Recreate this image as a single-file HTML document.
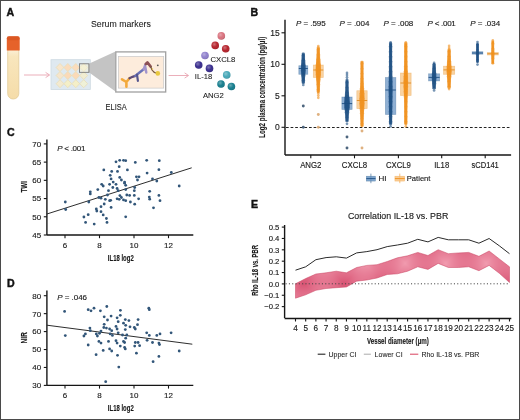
<!DOCTYPE html>
<html><head><meta charset="utf-8"><style>
html,body{margin:0;padding:0;background:#fff;}
svg{display:block;font-family:"Liberation Sans", sans-serif;will-change:transform;}
text{stroke:#1a1a1a;stroke-width:0.14;}
</style></head><body>
<svg width="520" height="420" viewBox="0 0 520 420">
<defs>
<radialGradient id="shine" cx="0.38" cy="0.35" r="0.65"><stop offset="0" stop-color="#fff" stop-opacity="0.35"/><stop offset="0.6" stop-color="#fff" stop-opacity="0"/><stop offset="1" stop-color="#000" stop-opacity="0.12"/></radialGradient>
<linearGradient id="tubebody" x1="0" y1="0" x2="0" y2="1"><stop offset="0" stop-color="#fcf4e4"/><stop offset="0.2" stop-color="#f8e6bd"/><stop offset="1" stop-color="#f5dca8"/></linearGradient>
<pattern id="hatch" width="1.45" height="1.45" patternUnits="userSpaceOnUse" patternTransform="rotate(45)">
<rect width="1.45" height="1.45" fill="#f29cb0"/><rect width="0.72" height="0.72" fill="#d85272"/><rect x="0.72" y="0.72" width="0.73" height="0.73" fill="#d85272"/>
</pattern>
</defs>
<rect x="0" y="0" width="520" height="1" fill="#4a4a4a"/><rect x="0" y="419" width="520" height="1" fill="#4a4a4a"/><rect x="0" y="0" width="1" height="420" fill="#4a4a4a"/><rect x="519" y="0" width="1" height="420" fill="#4a4a4a"/>
<text x="6.6" y="15.8" font-size="10.6" text-anchor="start" font-weight="bold" font-style="normal" fill="#111" style="stroke-width:0.45">A</text>
<text x="250.6" y="16.2" font-size="10.6" text-anchor="start" font-weight="bold" font-style="normal" fill="#111" style="stroke-width:0.45">B</text>
<text x="7" y="136.2" font-size="10.6" text-anchor="start" font-weight="bold" font-style="normal" fill="#111" style="stroke-width:0.45">C</text>
<text x="7" y="287" font-size="10.6" text-anchor="start" font-weight="bold" font-style="normal" fill="#111" style="stroke-width:0.45">D</text>
<text x="251" y="207.8" font-size="10.6" text-anchor="start" font-weight="bold" font-style="normal" fill="#111" style="stroke-width:0.45">E</text>
<text x="91" y="27.4" font-size="9.8" text-anchor="start" font-weight="normal" font-style="normal" fill="#1a1a1a" style="stroke-width:0.08" textLength="59.8" lengthAdjust="spacingAndGlyphs">Serum markers</text>
<rect x="7.7" y="46" width="11.1" height="53" rx="5.4" ry="5.4" fill="url(#tubebody)" stroke="#e2cc98" stroke-width="0.8"/>
<path d="M6.8,38.6 Q6.8,36.3 9.1,36.3 L17.4,36.3 Q19.7,36.3 19.7,38.6 L19.7,50.5 L6.8,50.5 Z" fill="#e6622a"/>
<rect x="6.8" y="36.3" width="12.9" height="4" rx="1.8" fill="#d4501f" opacity="0.6"/>
<line x1="24" y1="75" x2="49.1" y2="75" stroke="#e9a6b2" stroke-width="0.9"/>
<path d="M45.6,72.4 L49.6,75 L45.6,77.6" fill="none" stroke="#e9a6b2" stroke-width="0.9"/>
<line x1="168.6" y1="75.5" x2="188.1" y2="75.5" stroke="#e9a6b2" stroke-width="0.9"/>
<path d="M184.6,72.9 L188.6,75.5 L184.6,78.1" fill="none" stroke="#e9a6b2" stroke-width="0.9"/>
<rect x="51" y="59.7" width="39.3" height="29.8" fill="#dfe9f0" stroke="#cdd9e2" stroke-width="0.8"/>
<path d="M60,63.5 L63.9,67.5 L60,71.5 L56.1,67.5 Z" fill="#f8e6cc" stroke="#e8ddb8" stroke-width="0.8" stroke-linejoin="round"/>
<path d="M67.8,63.5 L71.7,67.5 L67.8,71.5 L63.9,67.5 Z" fill="#fbdcbc" stroke="#e8ddb8" stroke-width="0.8" stroke-linejoin="round"/>
<path d="M75.8,63.5 L79.7,67.5 L75.8,71.5 L71.89999999999999,67.5 Z" fill="#fbdcbc" stroke="#e8ddb8" stroke-width="0.8" stroke-linejoin="round"/>
<path d="M83.7,63.5 L87.60000000000001,67.5 L83.7,71.5 L79.8,67.5 Z" fill="#f3efd0" stroke="#e8ddb8" stroke-width="0.8" stroke-linejoin="round"/>
<path d="M60,71.5 L63.9,75.5 L60,79.5 L56.1,75.5 Z" fill="#f6e5cc" stroke="#e8ddb8" stroke-width="0.8" stroke-linejoin="round"/>
<path d="M67.8,71.5 L71.7,75.5 L67.8,79.5 L63.9,75.5 Z" fill="#fbdab8" stroke="#e8ddb8" stroke-width="0.8" stroke-linejoin="round"/>
<path d="M75.8,71.5 L79.7,75.5 L75.8,79.5 L71.89999999999999,75.5 Z" fill="#fbdab8" stroke="#e8ddb8" stroke-width="0.8" stroke-linejoin="round"/>
<path d="M83.7,71.5 L87.60000000000001,75.5 L83.7,79.5 L79.8,75.5 Z" fill="#f0edd2" stroke="#e8ddb8" stroke-width="0.8" stroke-linejoin="round"/>
<path d="M60,79.7 L63.9,83.7 L60,87.7 L56.1,83.7 Z" fill="#f3ead0" stroke="#e8ddb8" stroke-width="0.8" stroke-linejoin="round"/>
<path d="M67.8,79.7 L71.7,83.7 L67.8,87.7 L63.9,83.7 Z" fill="#f4efc8" stroke="#e8ddb8" stroke-width="0.8" stroke-linejoin="round"/>
<path d="M75.8,79.7 L79.7,83.7 L75.8,87.7 L71.89999999999999,83.7 Z" fill="#f4efc8" stroke="#e8ddb8" stroke-width="0.8" stroke-linejoin="round"/>
<path d="M83.7,79.7 L87.60000000000001,83.7 L83.7,87.7 L79.8,83.7 Z" fill="#eff1d8" stroke="#e8ddb8" stroke-width="0.8" stroke-linejoin="round"/>
<path d="M88.8,63.8 L115.5,51.6 L115.5,91.5 L88.8,72.3 Z" fill="#c4c4c4"/>
<rect x="79.4" y="63.8" width="9.5" height="8.5" fill="#f3f1d8" fill-opacity="0.55" stroke="#707070" stroke-width="0.8"/>
<rect x="115.8" y="51.9" width="49.9" height="40.1" fill="#fff" stroke="#a0a0a0" stroke-width="1.3"/>
<rect x="118.4" y="56.5" width="45.3" height="31.6" fill="#fdecdc" stroke="#c8c8c8" stroke-width="0.7"/>
<path d="M122,79.3 L126.4,82 L129.5,78.2 M126.4,82 L126.4,86.8" fill="none" stroke="#f2a93c" stroke-width="2.6" stroke-linecap="round" stroke-linejoin="round"/>
<path d="M129.5,78.2 L132.5,76.8 L135.3,75.9" fill="none" stroke="#5e4c78" stroke-width="2.3" stroke-linecap="round"/>
<path d="M135.3,75.9 L139.2,72.8 L143.7,69.3" fill="none" stroke="#6a72b8" stroke-width="2.4" stroke-linecap="round"/>
<path d="M137,74.5 L137.9,80.8" fill="none" stroke="#56568e" stroke-width="2.2" stroke-linecap="round"/>
<path d="M143.7,69.3 L145.4,64.4 M145.2,66.5 L146.3,72.5" fill="none" stroke="#a294cc" stroke-width="2.4" stroke-linecap="round"/>
<path d="M145.8,64 L147.4,62.4 L150.7,66.6" fill="none" stroke="#8c5056" stroke-width="2.6" stroke-linecap="round" stroke-linejoin="round"/>
<path d="M150.7,66.6 Q151.5,70.5 154.3,72.4 L156,73" fill="none" stroke="#7a5a40" stroke-width="1.3" stroke-linecap="round"/>
<circle cx="152.4" cy="69" r="0.8" fill="#e8c850"/>
<circle cx="157.8" cy="73.4" r="2.3" fill="#e9c840"/>
<circle cx="157.8" cy="65.3" r="0.9" fill="#555"/>
<text x="105.6" y="110.3" font-size="8.6" text-anchor="start" font-weight="normal" font-style="normal" fill="#1a1a1a" style="stroke-width:0.08" textLength="21.1" lengthAdjust="spacingAndGlyphs">ELISA</text>
<circle cx="221.3" cy="35.9" r="3.8" fill="#d9727e"/>
<circle cx="221.3" cy="35.9" r="3.8" fill="url(#shine)"/>
<circle cx="215.2" cy="45.4" r="3.8" fill="#b5232c"/>
<circle cx="215.2" cy="45.4" r="3.8" fill="url(#shine)"/>
<circle cx="225.7" cy="48.8" r="3.8" fill="#b5232c"/>
<circle cx="225.7" cy="48.8" r="3.8" fill="url(#shine)"/>
<circle cx="205" cy="55.5" r="3.8" fill="#8f80cc"/>
<circle cx="205" cy="55.5" r="3.8" fill="url(#shine)"/>
<circle cx="198.7" cy="65" r="3.8" fill="#3a2e8e"/>
<circle cx="198.7" cy="65" r="3.8" fill="url(#shine)"/>
<circle cx="209.5" cy="68.4" r="3.8" fill="#3a2e8e"/>
<circle cx="209.5" cy="68.4" r="3.8" fill="url(#shine)"/>
<circle cx="226.7" cy="74.9" r="3.8" fill="#48a8b8"/>
<circle cx="226.7" cy="74.9" r="3.8" fill="url(#shine)"/>
<circle cx="221" cy="84" r="3.8" fill="#177e8e"/>
<circle cx="221" cy="84" r="3.8" fill="url(#shine)"/>
<circle cx="231.4" cy="86.5" r="3.8" fill="#177e8e"/>
<circle cx="231.4" cy="86.5" r="3.8" fill="url(#shine)"/>
<text x="210.5" y="62" font-size="7.7" text-anchor="start" font-weight="normal" font-style="normal" fill="#1a1a1a" style="stroke-width:0.08">CXCL8</text>
<text x="194.8" y="79.2" font-size="7.6" text-anchor="start" font-weight="normal" font-style="normal" fill="#1a1a1a" style="stroke-width:0.08">IL-18</text>
<text x="202.9" y="97.7" font-size="7.7" text-anchor="start" font-weight="normal" font-style="normal" fill="#1a1a1a" style="stroke-width:0.08">ANG2</text>
<line x1="285" y1="19.8" x2="285" y2="155" stroke="#161616" stroke-width="1.4"/>
<line x1="285" y1="155" x2="511.1" y2="155" stroke="#161616" stroke-width="1.4"/>
<line x1="281.5" y1="127.3" x2="285" y2="127.3" stroke="#161616" stroke-width="1.1"/>
<text x="279.8" y="130.4" font-size="8.5" text-anchor="end" font-weight="normal" font-style="normal" fill="#1a1a1a" >0</text>
<line x1="281.5" y1="95.8" x2="285" y2="95.8" stroke="#161616" stroke-width="1.1"/>
<text x="279.8" y="98.89999999999999" font-size="8.5" text-anchor="end" font-weight="normal" font-style="normal" fill="#1a1a1a" >5</text>
<line x1="281.5" y1="64.3" x2="285" y2="64.3" stroke="#161616" stroke-width="1.1"/>
<text x="279.8" y="67.39999999999999" font-size="8.5" text-anchor="end" font-weight="normal" font-style="normal" fill="#1a1a1a" >10</text>
<line x1="281.5" y1="32.8" x2="285" y2="32.8" stroke="#161616" stroke-width="1.1"/>
<text x="279.8" y="35.9" font-size="8.5" text-anchor="end" font-weight="normal" font-style="normal" fill="#1a1a1a" >15</text>
<line x1="286" y1="127.5" x2="511" y2="127.5" stroke="#222" stroke-width="1" stroke-dasharray="2.7,1.9"/>
<line x1="310.8" y1="155" x2="310.8" y2="158.3" stroke="#161616" stroke-width="1.1"/>
<text x="310.8" y="167.6" font-size="8.5" text-anchor="middle" font-weight="normal" font-style="normal" fill="#1a1a1a" textLength="21.3" lengthAdjust="spacingAndGlyphs">ANG2</text>
<text x="310.8" y="25.6" font-size="8" text-anchor="middle" fill="#1a1a1a" textLength="29.8" lengthAdjust="spacing"><tspan font-style="italic">P</tspan> = .595</text>
<line x1="354.5" y1="155" x2="354.5" y2="158.3" stroke="#161616" stroke-width="1.1"/>
<text x="354.5" y="167.6" font-size="8.5" text-anchor="middle" font-weight="normal" font-style="normal" fill="#1a1a1a" textLength="25.4" lengthAdjust="spacingAndGlyphs">CXCL8</text>
<text x="354.5" y="25.6" font-size="8" text-anchor="middle" fill="#1a1a1a" textLength="29.8" lengthAdjust="spacing"><tspan font-style="italic">P</tspan> = .004</text>
<line x1="398.4" y1="155" x2="398.4" y2="158.3" stroke="#161616" stroke-width="1.1"/>
<text x="398.4" y="167.6" font-size="8.5" text-anchor="middle" font-weight="normal" font-style="normal" fill="#1a1a1a" textLength="25" lengthAdjust="spacingAndGlyphs">CXCL9</text>
<text x="398.4" y="25.6" font-size="8" text-anchor="middle" fill="#1a1a1a" textLength="29.8" lengthAdjust="spacing"><tspan font-style="italic">P</tspan> = .008</text>
<line x1="441.7" y1="155" x2="441.7" y2="158.3" stroke="#161616" stroke-width="1.1"/>
<text x="441.7" y="167.6" font-size="8.5" text-anchor="middle" font-weight="normal" font-style="normal" fill="#1a1a1a" textLength="15" lengthAdjust="spacingAndGlyphs">IL18</text>
<text x="441.7" y="25.6" font-size="8" text-anchor="middle" fill="#1a1a1a" textLength="28.2" lengthAdjust="spacing"><tspan font-style="italic">P</tspan> &lt; .001</text>
<line x1="485.2" y1="155" x2="485.2" y2="158.3" stroke="#161616" stroke-width="1.1"/>
<text x="485.2" y="167.6" font-size="8.5" text-anchor="middle" font-weight="normal" font-style="normal" fill="#1a1a1a" textLength="27.2" lengthAdjust="spacingAndGlyphs">sCD141</text>
<text x="485.2" y="25.6" font-size="8" text-anchor="middle" fill="#1a1a1a" textLength="29.8" lengthAdjust="spacing"><tspan font-style="italic">P</tspan> = .034</text>
<text transform="translate(264.7,87.3) rotate(-90)" font-size="8.6" font-weight="bold" text-anchor="middle" fill="#1a1a1a" textLength="101" lengthAdjust="spacingAndGlyphs">Log2 plasma concentration (pg/µl)</text>
<rect x="298.8" y="65.7" width="9" height="8.599999999999994" fill="#6a96c6" fill-opacity="0.75" stroke="#1d4f82" stroke-opacity="0.35" stroke-width="0.7"/>
<line x1="298.8" y1="68.5" x2="307.8" y2="68.5" stroke="#1d4f82" stroke-width="0.9"/>
<rect x="301.66" y="52.45" width="3.28" height="2.9" rx="1.45" fill="#1d4f82" fill-opacity="0.8"/>
<rect x="301.63" y="53.70" width="3.33" height="2.9" rx="1.45" fill="#1d4f82" fill-opacity="0.8"/>
<rect x="301.60" y="54.95" width="3.41" height="2.9" rx="1.45" fill="#1d4f82" fill-opacity="0.8"/>
<rect x="301.54" y="56.20" width="3.51" height="2.9" rx="1.45" fill="#1d4f82" fill-opacity="0.8"/>
<rect x="301.48" y="57.45" width="3.64" height="2.9" rx="1.45" fill="#1d4f82" fill-opacity="0.8"/>
<rect x="301.40" y="58.70" width="3.81" height="2.9" rx="1.45" fill="#1d4f82" fill-opacity="0.8"/>
<rect x="301.30" y="59.95" width="3.99" height="2.9" rx="1.45" fill="#1d4f82" fill-opacity="0.8"/>
<rect x="301.20" y="61.20" width="4.19" height="2.9" rx="1.45" fill="#1d4f82" fill-opacity="0.8"/>
<rect x="301.10" y="62.45" width="4.39" height="2.9" rx="1.45" fill="#1d4f82" fill-opacity="0.8"/>
<rect x="301.02" y="63.70" width="4.57" height="2.9" rx="1.45" fill="#1d4f82" fill-opacity="0.8"/>
<rect x="300.95" y="64.95" width="4.70" height="2.9" rx="1.45" fill="#1d4f82" fill-opacity="0.8"/>
<rect x="300.91" y="66.20" width="4.78" height="2.9" rx="1.45" fill="#1d4f82" fill-opacity="0.8"/>
<rect x="300.90" y="67.45" width="4.80" height="2.9" rx="1.45" fill="#1d4f82" fill-opacity="0.8"/>
<rect x="300.93" y="68.70" width="4.74" height="2.9" rx="1.45" fill="#1d4f82" fill-opacity="0.8"/>
<rect x="300.99" y="69.95" width="4.62" height="2.9" rx="1.45" fill="#1d4f82" fill-opacity="0.8"/>
<rect x="301.07" y="71.20" width="4.46" height="2.9" rx="1.45" fill="#1d4f82" fill-opacity="0.8"/>
<rect x="301.17" y="72.45" width="4.27" height="2.9" rx="1.45" fill="#1d4f82" fill-opacity="0.8"/>
<rect x="301.27" y="73.70" width="4.07" height="2.9" rx="1.45" fill="#1d4f82" fill-opacity="0.8"/>
<rect x="301.36" y="74.95" width="3.87" height="2.9" rx="1.45" fill="#1d4f82" fill-opacity="0.8"/>
<rect x="301.45" y="76.20" width="3.70" height="2.9" rx="1.45" fill="#1d4f82" fill-opacity="0.8"/>
<rect x="301.52" y="77.45" width="3.56" height="2.9" rx="1.45" fill="#1d4f82" fill-opacity="0.8"/>
<rect x="301.58" y="78.70" width="3.44" height="2.9" rx="1.45" fill="#1d4f82" fill-opacity="0.8"/>
<rect x="301.62" y="79.95" width="3.36" height="2.9" rx="1.45" fill="#1d4f82" fill-opacity="0.8"/>
<rect x="301.65" y="81.20" width="3.30" height="2.9" rx="1.45" fill="#1d4f82" fill-opacity="0.8"/>
<circle cx="303.3" cy="85.00" r="1.35" fill="#1d4f82" fill-opacity="0.6"/>
<circle cx="303.3" cy="106" r="1.45" fill="#3a5470" fill-opacity="0.9"/>
<circle cx="303.3" cy="127.3" r="1.45" fill="#3a5470" fill-opacity="0.9"/>
<rect x="313.3" y="65" width="10" height="12.5" fill="#f8c482" fill-opacity="0.75" stroke="#e08a20" stroke-opacity="0.35" stroke-width="0.7"/>
<line x1="313.3" y1="70" x2="323.3" y2="70" stroke="#e08a20" stroke-width="0.9"/>
<rect x="316.67" y="46.55" width="3.25" height="2.9" rx="1.45" fill="#f0901c" fill-opacity="0.8"/>
<rect x="316.66" y="47.80" width="3.28" height="2.9" rx="1.45" fill="#f0901c" fill-opacity="0.8"/>
<rect x="316.64" y="49.05" width="3.31" height="2.9" rx="1.45" fill="#f0901c" fill-opacity="0.8"/>
<rect x="316.62" y="50.30" width="3.36" height="2.9" rx="1.45" fill="#f0901c" fill-opacity="0.8"/>
<rect x="316.58" y="51.55" width="3.43" height="2.9" rx="1.45" fill="#f0901c" fill-opacity="0.8"/>
<rect x="316.54" y="52.80" width="3.52" height="2.9" rx="1.45" fill="#f0901c" fill-opacity="0.8"/>
<rect x="316.49" y="54.05" width="3.63" height="2.9" rx="1.45" fill="#f0901c" fill-opacity="0.8"/>
<rect x="316.42" y="55.30" width="3.76" height="2.9" rx="1.45" fill="#f0901c" fill-opacity="0.8"/>
<rect x="316.34" y="56.55" width="3.91" height="2.9" rx="1.45" fill="#f0901c" fill-opacity="0.8"/>
<rect x="316.25" y="57.80" width="4.09" height="2.9" rx="1.45" fill="#f0901c" fill-opacity="0.8"/>
<rect x="316.16" y="59.05" width="4.29" height="2.9" rx="1.45" fill="#f0901c" fill-opacity="0.8"/>
<rect x="316.05" y="60.30" width="4.49" height="2.9" rx="1.45" fill="#f0901c" fill-opacity="0.8"/>
<rect x="315.95" y="61.55" width="4.70" height="2.9" rx="1.45" fill="#f0901c" fill-opacity="0.8"/>
<rect x="315.85" y="62.80" width="4.90" height="2.9" rx="1.45" fill="#f0901c" fill-opacity="0.8"/>
<rect x="315.76" y="64.05" width="5.08" height="2.9" rx="1.45" fill="#f0901c" fill-opacity="0.8"/>
<rect x="315.69" y="65.30" width="5.23" height="2.9" rx="1.45" fill="#f0901c" fill-opacity="0.8"/>
<rect x="315.63" y="66.55" width="5.33" height="2.9" rx="1.45" fill="#f0901c" fill-opacity="0.8"/>
<rect x="315.60" y="67.80" width="5.39" height="2.9" rx="1.45" fill="#f0901c" fill-opacity="0.8"/>
<rect x="315.60" y="69.05" width="5.40" height="2.9" rx="1.45" fill="#f0901c" fill-opacity="0.8"/>
<rect x="315.63" y="70.30" width="5.35" height="2.9" rx="1.45" fill="#f0901c" fill-opacity="0.8"/>
<rect x="315.67" y="71.55" width="5.25" height="2.9" rx="1.45" fill="#f0901c" fill-opacity="0.8"/>
<rect x="315.74" y="72.80" width="5.11" height="2.9" rx="1.45" fill="#f0901c" fill-opacity="0.8"/>
<rect x="315.83" y="74.05" width="4.94" height="2.9" rx="1.45" fill="#f0901c" fill-opacity="0.8"/>
<rect x="315.93" y="75.30" width="4.74" height="2.9" rx="1.45" fill="#f0901c" fill-opacity="0.8"/>
<rect x="316.03" y="76.55" width="4.53" height="2.9" rx="1.45" fill="#f0901c" fill-opacity="0.8"/>
<rect x="316.14" y="77.80" width="4.33" height="2.9" rx="1.45" fill="#f0901c" fill-opacity="0.8"/>
<rect x="316.24" y="79.05" width="4.13" height="2.9" rx="1.45" fill="#f0901c" fill-opacity="0.8"/>
<rect x="316.33" y="80.30" width="3.95" height="2.9" rx="1.45" fill="#f0901c" fill-opacity="0.8"/>
<rect x="316.41" y="81.55" width="3.79" height="2.9" rx="1.45" fill="#f0901c" fill-opacity="0.8"/>
<rect x="316.47" y="82.80" width="3.65" height="2.9" rx="1.45" fill="#f0901c" fill-opacity="0.8"/>
<rect x="316.53" y="84.05" width="3.54" height="2.9" rx="1.45" fill="#f0901c" fill-opacity="0.8"/>
<rect x="316.58" y="85.30" width="3.45" height="2.9" rx="1.45" fill="#f0901c" fill-opacity="0.8"/>
<rect x="316.61" y="86.55" width="3.38" height="2.9" rx="1.45" fill="#f0901c" fill-opacity="0.8"/>
<rect x="316.64" y="87.80" width="3.32" height="2.9" rx="1.45" fill="#f0901c" fill-opacity="0.8"/>
<rect x="316.66" y="89.05" width="3.28" height="2.9" rx="1.45" fill="#f0901c" fill-opacity="0.8"/>
<rect x="316.67" y="90.30" width="3.25" height="2.9" rx="1.45" fill="#f0901c" fill-opacity="0.8"/>
<circle cx="318.3" cy="46.00" r="1.35" fill="#f0901c" fill-opacity="0.6"/>
<circle cx="318.3" cy="97.80" r="1.35" fill="#f0901c" fill-opacity="0.6"/>
<circle cx="318.3" cy="95.60" r="1.35" fill="#f0901c" fill-opacity="0.6"/>
<circle cx="318.3" cy="93.40" r="1.35" fill="#f0901c" fill-opacity="0.6"/>
<circle cx="318.3" cy="114.5" r="1.45" fill="#dba872" fill-opacity="0.9"/>
<circle cx="318.3" cy="127.3" r="1.45" fill="#dba872" fill-opacity="0.9"/>
<rect x="341.85" y="97" width="10.3" height="12.5" fill="#6a96c6" fill-opacity="0.75" stroke="#1d4f82" stroke-opacity="0.35" stroke-width="0.7"/>
<line x1="341.85" y1="103.6" x2="352.15" y2="103.6" stroke="#1d4f82" stroke-width="0.9"/>
<rect x="345.39" y="79.45" width="3.21" height="2.9" rx="1.45" fill="#1d4f82" fill-opacity="0.8"/>
<rect x="345.39" y="80.70" width="3.22" height="2.9" rx="1.45" fill="#1d4f82" fill-opacity="0.8"/>
<rect x="345.38" y="81.95" width="3.24" height="2.9" rx="1.45" fill="#1d4f82" fill-opacity="0.8"/>
<rect x="345.37" y="83.20" width="3.26" height="2.9" rx="1.45" fill="#1d4f82" fill-opacity="0.8"/>
<rect x="345.35" y="84.45" width="3.30" height="2.9" rx="1.45" fill="#1d4f82" fill-opacity="0.8"/>
<rect x="345.32" y="85.70" width="3.35" height="2.9" rx="1.45" fill="#1d4f82" fill-opacity="0.8"/>
<rect x="345.29" y="86.95" width="3.43" height="2.9" rx="1.45" fill="#1d4f82" fill-opacity="0.8"/>
<rect x="345.24" y="88.20" width="3.53" height="2.9" rx="1.45" fill="#1d4f82" fill-opacity="0.8"/>
<rect x="345.17" y="89.45" width="3.66" height="2.9" rx="1.45" fill="#1d4f82" fill-opacity="0.8"/>
<rect x="345.09" y="90.70" width="3.83" height="2.9" rx="1.45" fill="#1d4f82" fill-opacity="0.8"/>
<rect x="344.98" y="91.95" width="4.03" height="2.9" rx="1.45" fill="#1d4f82" fill-opacity="0.8"/>
<rect x="344.87" y="93.20" width="4.26" height="2.9" rx="1.45" fill="#1d4f82" fill-opacity="0.8"/>
<rect x="344.74" y="94.45" width="4.51" height="2.9" rx="1.45" fill="#1d4f82" fill-opacity="0.8"/>
<rect x="344.62" y="95.70" width="4.77" height="2.9" rx="1.45" fill="#1d4f82" fill-opacity="0.8"/>
<rect x="344.49" y="96.95" width="5.02" height="2.9" rx="1.45" fill="#1d4f82" fill-opacity="0.8"/>
<rect x="344.38" y="98.20" width="5.25" height="2.9" rx="1.45" fill="#1d4f82" fill-opacity="0.8"/>
<rect x="344.29" y="99.45" width="5.43" height="2.9" rx="1.45" fill="#1d4f82" fill-opacity="0.8"/>
<rect x="344.23" y="100.70" width="5.55" height="2.9" rx="1.45" fill="#1d4f82" fill-opacity="0.8"/>
<rect x="344.20" y="101.95" width="5.60" height="2.9" rx="1.45" fill="#1d4f82" fill-opacity="0.8"/>
<rect x="344.21" y="103.20" width="5.57" height="2.9" rx="1.45" fill="#1d4f82" fill-opacity="0.8"/>
<rect x="344.26" y="104.45" width="5.47" height="2.9" rx="1.45" fill="#1d4f82" fill-opacity="0.8"/>
<rect x="344.34" y="105.70" width="5.31" height="2.9" rx="1.45" fill="#1d4f82" fill-opacity="0.8"/>
<rect x="344.45" y="106.95" width="5.10" height="2.9" rx="1.45" fill="#1d4f82" fill-opacity="0.8"/>
<rect x="344.57" y="108.20" width="4.85" height="2.9" rx="1.45" fill="#1d4f82" fill-opacity="0.8"/>
<rect x="344.70" y="109.45" width="4.59" height="2.9" rx="1.45" fill="#1d4f82" fill-opacity="0.8"/>
<rect x="344.83" y="110.70" width="4.34" height="2.9" rx="1.45" fill="#1d4f82" fill-opacity="0.8"/>
<rect x="344.95" y="111.95" width="4.10" height="2.9" rx="1.45" fill="#1d4f82" fill-opacity="0.8"/>
<rect x="345.05" y="113.20" width="3.89" height="2.9" rx="1.45" fill="#1d4f82" fill-opacity="0.8"/>
<rect x="345.14" y="114.45" width="3.71" height="2.9" rx="1.45" fill="#1d4f82" fill-opacity="0.8"/>
<rect x="345.22" y="115.70" width="3.57" height="2.9" rx="1.45" fill="#1d4f82" fill-opacity="0.8"/>
<rect x="345.27" y="116.95" width="3.46" height="2.9" rx="1.45" fill="#1d4f82" fill-opacity="0.8"/>
<rect x="345.31" y="118.20" width="3.37" height="2.9" rx="1.45" fill="#1d4f82" fill-opacity="0.8"/>
<rect x="345.34" y="119.45" width="3.31" height="2.9" rx="1.45" fill="#1d4f82" fill-opacity="0.8"/>
<circle cx="347.0" cy="72.90" r="1.35" fill="#1d4f82" fill-opacity="0.6"/>
<circle cx="347.0" cy="75.10" r="1.35" fill="#1d4f82" fill-opacity="0.6"/>
<circle cx="347.0" cy="77.30" r="1.35" fill="#1d4f82" fill-opacity="0.6"/>
<circle cx="347.0" cy="79.50" r="1.35" fill="#1d4f82" fill-opacity="0.6"/>
<circle cx="347.0" cy="123.80" r="1.35" fill="#1d4f82" fill-opacity="0.6"/>
<circle cx="347.0" cy="137" r="1.45" fill="#3a5470" fill-opacity="0.9"/>
<circle cx="347.0" cy="148" r="1.45" fill="#3a5470" fill-opacity="0.9"/>
<rect x="356.8" y="90.7" width="10.4" height="17.89999999999999" fill="#f8c482" fill-opacity="0.75" stroke="#e08a20" stroke-opacity="0.35" stroke-width="0.7"/>
<line x1="356.8" y1="100.5" x2="367.2" y2="100.5" stroke="#e08a20" stroke-width="0.9"/>
<rect x="360.40" y="60.65" width="3.20" height="2.9" rx="1.45" fill="#f0901c" fill-opacity="0.8"/>
<rect x="360.40" y="61.90" width="3.20" height="2.9" rx="1.45" fill="#f0901c" fill-opacity="0.8"/>
<rect x="360.40" y="63.15" width="3.20" height="2.9" rx="1.45" fill="#f0901c" fill-opacity="0.8"/>
<rect x="360.40" y="64.40" width="3.20" height="2.9" rx="1.45" fill="#f0901c" fill-opacity="0.8"/>
<rect x="360.40" y="65.65" width="3.21" height="2.9" rx="1.45" fill="#f0901c" fill-opacity="0.8"/>
<rect x="360.39" y="66.90" width="3.21" height="2.9" rx="1.45" fill="#f0901c" fill-opacity="0.8"/>
<rect x="360.39" y="68.15" width="3.22" height="2.9" rx="1.45" fill="#f0901c" fill-opacity="0.8"/>
<rect x="360.39" y="69.40" width="3.22" height="2.9" rx="1.45" fill="#f0901c" fill-opacity="0.8"/>
<rect x="360.38" y="70.65" width="3.24" height="2.9" rx="1.45" fill="#f0901c" fill-opacity="0.8"/>
<rect x="360.37" y="71.90" width="3.25" height="2.9" rx="1.45" fill="#f0901c" fill-opacity="0.8"/>
<rect x="360.37" y="73.15" width="3.27" height="2.9" rx="1.45" fill="#f0901c" fill-opacity="0.8"/>
<rect x="360.35" y="74.40" width="3.30" height="2.9" rx="1.45" fill="#f0901c" fill-opacity="0.8"/>
<rect x="360.34" y="75.65" width="3.33" height="2.9" rx="1.45" fill="#f0901c" fill-opacity="0.8"/>
<rect x="360.31" y="76.90" width="3.37" height="2.9" rx="1.45" fill="#f0901c" fill-opacity="0.8"/>
<rect x="360.29" y="78.15" width="3.43" height="2.9" rx="1.45" fill="#f0901c" fill-opacity="0.8"/>
<rect x="360.25" y="79.40" width="3.49" height="2.9" rx="1.45" fill="#f0901c" fill-opacity="0.8"/>
<rect x="360.22" y="80.65" width="3.57" height="2.9" rx="1.45" fill="#f0901c" fill-opacity="0.8"/>
<rect x="360.17" y="81.90" width="3.66" height="2.9" rx="1.45" fill="#f0901c" fill-opacity="0.8"/>
<rect x="360.12" y="83.15" width="3.77" height="2.9" rx="1.45" fill="#f0901c" fill-opacity="0.8"/>
<rect x="360.06" y="84.40" width="3.88" height="2.9" rx="1.45" fill="#f0901c" fill-opacity="0.8"/>
<rect x="359.99" y="85.65" width="4.01" height="2.9" rx="1.45" fill="#f0901c" fill-opacity="0.8"/>
<rect x="359.92" y="86.90" width="4.16" height="2.9" rx="1.45" fill="#f0901c" fill-opacity="0.8"/>
<rect x="359.85" y="88.15" width="4.30" height="2.9" rx="1.45" fill="#f0901c" fill-opacity="0.8"/>
<rect x="359.77" y="89.40" width="4.46" height="2.9" rx="1.45" fill="#f0901c" fill-opacity="0.8"/>
<rect x="359.70" y="90.65" width="4.61" height="2.9" rx="1.45" fill="#f0901c" fill-opacity="0.8"/>
<rect x="359.63" y="91.90" width="4.75" height="2.9" rx="1.45" fill="#f0901c" fill-opacity="0.8"/>
<rect x="359.56" y="93.15" width="4.88" height="2.9" rx="1.45" fill="#f0901c" fill-opacity="0.8"/>
<rect x="359.50" y="94.40" width="5.00" height="2.9" rx="1.45" fill="#f0901c" fill-opacity="0.8"/>
<rect x="359.46" y="95.65" width="5.09" height="2.9" rx="1.45" fill="#f0901c" fill-opacity="0.8"/>
<rect x="359.42" y="96.90" width="5.15" height="2.9" rx="1.45" fill="#f0901c" fill-opacity="0.8"/>
<rect x="359.40" y="98.15" width="5.19" height="2.9" rx="1.45" fill="#f0901c" fill-opacity="0.8"/>
<rect x="359.40" y="99.40" width="5.20" height="2.9" rx="1.45" fill="#f0901c" fill-opacity="0.8"/>
<rect x="359.41" y="100.65" width="5.17" height="2.9" rx="1.45" fill="#f0901c" fill-opacity="0.8"/>
<rect x="359.44" y="101.90" width="5.12" height="2.9" rx="1.45" fill="#f0901c" fill-opacity="0.8"/>
<rect x="359.48" y="103.15" width="5.04" height="2.9" rx="1.45" fill="#f0901c" fill-opacity="0.8"/>
<rect x="359.53" y="104.40" width="4.93" height="2.9" rx="1.45" fill="#f0901c" fill-opacity="0.8"/>
<rect x="359.60" y="105.65" width="4.81" height="2.9" rx="1.45" fill="#f0901c" fill-opacity="0.8"/>
<rect x="359.67" y="106.90" width="4.67" height="2.9" rx="1.45" fill="#f0901c" fill-opacity="0.8"/>
<rect x="359.74" y="108.15" width="4.52" height="2.9" rx="1.45" fill="#f0901c" fill-opacity="0.8"/>
<rect x="359.81" y="109.40" width="4.37" height="2.9" rx="1.45" fill="#f0901c" fill-opacity="0.8"/>
<rect x="359.89" y="110.65" width="4.22" height="2.9" rx="1.45" fill="#f0901c" fill-opacity="0.8"/>
<rect x="359.96" y="111.90" width="4.08" height="2.9" rx="1.45" fill="#f0901c" fill-opacity="0.8"/>
<rect x="360.03" y="113.15" width="3.94" height="2.9" rx="1.45" fill="#f0901c" fill-opacity="0.8"/>
<rect x="360.09" y="114.40" width="3.82" height="2.9" rx="1.45" fill="#f0901c" fill-opacity="0.8"/>
<rect x="360.15" y="115.65" width="3.70" height="2.9" rx="1.45" fill="#f0901c" fill-opacity="0.8"/>
<rect x="360.20" y="116.90" width="3.61" height="2.9" rx="1.45" fill="#f0901c" fill-opacity="0.8"/>
<rect x="360.24" y="118.15" width="3.52" height="2.9" rx="1.45" fill="#f0901c" fill-opacity="0.8"/>
<rect x="360.27" y="119.40" width="3.45" height="2.9" rx="1.45" fill="#f0901c" fill-opacity="0.8"/>
<rect x="360.30" y="120.65" width="3.39" height="2.9" rx="1.45" fill="#f0901c" fill-opacity="0.8"/>
<rect x="360.33" y="121.90" width="3.35" height="2.9" rx="1.45" fill="#f0901c" fill-opacity="0.8"/>
<rect x="360.35" y="123.15" width="3.31" height="2.9" rx="1.45" fill="#f0901c" fill-opacity="0.8"/>
<rect x="360.36" y="124.40" width="3.28" height="2.9" rx="1.45" fill="#f0901c" fill-opacity="0.8"/>
<circle cx="362.0" cy="131" r="1.45" fill="#dba872" fill-opacity="0.9"/>
<circle cx="362.0" cy="148" r="1.45" fill="#dba872" fill-opacity="0.9"/>
<rect x="385.34999999999997" y="77.5" width="10.5" height="37.0" fill="#6a96c6" fill-opacity="0.75" stroke="#1d4f82" stroke-opacity="0.35" stroke-width="0.7"/>
<line x1="385.34999999999997" y1="90" x2="395.84999999999997" y2="90" stroke="#1d4f82" stroke-width="0.9"/>
<rect x="388.95" y="42.35" width="3.30" height="2.9" rx="1.45" fill="#1d4f82" fill-opacity="0.8"/>
<rect x="388.95" y="43.60" width="3.30" height="2.9" rx="1.45" fill="#1d4f82" fill-opacity="0.8"/>
<rect x="388.95" y="44.85" width="3.31" height="2.9" rx="1.45" fill="#1d4f82" fill-opacity="0.8"/>
<rect x="388.95" y="46.10" width="3.31" height="2.9" rx="1.45" fill="#1d4f82" fill-opacity="0.8"/>
<rect x="388.95" y="47.35" width="3.31" height="2.9" rx="1.45" fill="#1d4f82" fill-opacity="0.8"/>
<rect x="388.94" y="48.60" width="3.31" height="2.9" rx="1.45" fill="#1d4f82" fill-opacity="0.8"/>
<rect x="388.94" y="49.85" width="3.32" height="2.9" rx="1.45" fill="#1d4f82" fill-opacity="0.8"/>
<rect x="388.94" y="51.10" width="3.32" height="2.9" rx="1.45" fill="#1d4f82" fill-opacity="0.8"/>
<rect x="388.94" y="52.35" width="3.32" height="2.9" rx="1.45" fill="#1d4f82" fill-opacity="0.8"/>
<rect x="388.93" y="53.60" width="3.33" height="2.9" rx="1.45" fill="#1d4f82" fill-opacity="0.8"/>
<rect x="388.93" y="54.85" width="3.34" height="2.9" rx="1.45" fill="#1d4f82" fill-opacity="0.8"/>
<rect x="388.93" y="56.10" width="3.35" height="2.9" rx="1.45" fill="#1d4f82" fill-opacity="0.8"/>
<rect x="388.92" y="57.35" width="3.36" height="2.9" rx="1.45" fill="#1d4f82" fill-opacity="0.8"/>
<rect x="388.91" y="58.60" width="3.37" height="2.9" rx="1.45" fill="#1d4f82" fill-opacity="0.8"/>
<rect x="388.91" y="59.85" width="3.39" height="2.9" rx="1.45" fill="#1d4f82" fill-opacity="0.8"/>
<rect x="388.90" y="61.10" width="3.40" height="2.9" rx="1.45" fill="#1d4f82" fill-opacity="0.8"/>
<rect x="388.89" y="62.35" width="3.42" height="2.9" rx="1.45" fill="#1d4f82" fill-opacity="0.8"/>
<rect x="388.88" y="63.60" width="3.44" height="2.9" rx="1.45" fill="#1d4f82" fill-opacity="0.8"/>
<rect x="388.87" y="64.85" width="3.47" height="2.9" rx="1.45" fill="#1d4f82" fill-opacity="0.8"/>
<rect x="388.85" y="66.10" width="3.49" height="2.9" rx="1.45" fill="#1d4f82" fill-opacity="0.8"/>
<rect x="388.84" y="67.35" width="3.52" height="2.9" rx="1.45" fill="#1d4f82" fill-opacity="0.8"/>
<rect x="388.82" y="68.60" width="3.55" height="2.9" rx="1.45" fill="#1d4f82" fill-opacity="0.8"/>
<rect x="388.81" y="69.85" width="3.59" height="2.9" rx="1.45" fill="#1d4f82" fill-opacity="0.8"/>
<rect x="388.79" y="71.10" width="3.62" height="2.9" rx="1.45" fill="#1d4f82" fill-opacity="0.8"/>
<rect x="388.77" y="72.35" width="3.66" height="2.9" rx="1.45" fill="#1d4f82" fill-opacity="0.8"/>
<rect x="388.75" y="73.60" width="3.70" height="2.9" rx="1.45" fill="#1d4f82" fill-opacity="0.8"/>
<rect x="388.73" y="74.85" width="3.73" height="2.9" rx="1.45" fill="#1d4f82" fill-opacity="0.8"/>
<rect x="388.71" y="76.10" width="3.77" height="2.9" rx="1.45" fill="#1d4f82" fill-opacity="0.8"/>
<rect x="388.70" y="77.35" width="3.81" height="2.9" rx="1.45" fill="#1d4f82" fill-opacity="0.8"/>
<rect x="388.68" y="78.60" width="3.84" height="2.9" rx="1.45" fill="#1d4f82" fill-opacity="0.8"/>
<rect x="388.66" y="79.85" width="3.88" height="2.9" rx="1.45" fill="#1d4f82" fill-opacity="0.8"/>
<rect x="388.65" y="81.10" width="3.91" height="2.9" rx="1.45" fill="#1d4f82" fill-opacity="0.8"/>
<rect x="388.63" y="82.35" width="3.93" height="2.9" rx="1.45" fill="#1d4f82" fill-opacity="0.8"/>
<rect x="388.62" y="83.60" width="3.96" height="2.9" rx="1.45" fill="#1d4f82" fill-opacity="0.8"/>
<rect x="388.61" y="84.85" width="3.98" height="2.9" rx="1.45" fill="#1d4f82" fill-opacity="0.8"/>
<rect x="388.61" y="86.10" width="3.99" height="2.9" rx="1.45" fill="#1d4f82" fill-opacity="0.8"/>
<rect x="388.60" y="87.35" width="4.00" height="2.9" rx="1.45" fill="#1d4f82" fill-opacity="0.8"/>
<rect x="388.60" y="88.60" width="4.00" height="2.9" rx="1.45" fill="#1d4f82" fill-opacity="0.8"/>
<rect x="388.60" y="89.85" width="4.00" height="2.9" rx="1.45" fill="#1d4f82" fill-opacity="0.8"/>
<rect x="388.61" y="91.10" width="3.99" height="2.9" rx="1.45" fill="#1d4f82" fill-opacity="0.8"/>
<rect x="388.61" y="92.35" width="3.97" height="2.9" rx="1.45" fill="#1d4f82" fill-opacity="0.8"/>
<rect x="388.62" y="93.60" width="3.96" height="2.9" rx="1.45" fill="#1d4f82" fill-opacity="0.8"/>
<rect x="388.63" y="94.85" width="3.93" height="2.9" rx="1.45" fill="#1d4f82" fill-opacity="0.8"/>
<rect x="388.65" y="96.10" width="3.91" height="2.9" rx="1.45" fill="#1d4f82" fill-opacity="0.8"/>
<rect x="388.66" y="97.35" width="3.87" height="2.9" rx="1.45" fill="#1d4f82" fill-opacity="0.8"/>
<rect x="388.68" y="98.60" width="3.84" height="2.9" rx="1.45" fill="#1d4f82" fill-opacity="0.8"/>
<rect x="388.70" y="99.85" width="3.81" height="2.9" rx="1.45" fill="#1d4f82" fill-opacity="0.8"/>
<rect x="388.72" y="101.10" width="3.77" height="2.9" rx="1.45" fill="#1d4f82" fill-opacity="0.8"/>
<rect x="388.73" y="102.35" width="3.73" height="2.9" rx="1.45" fill="#1d4f82" fill-opacity="0.8"/>
<rect x="388.75" y="103.60" width="3.69" height="2.9" rx="1.45" fill="#1d4f82" fill-opacity="0.8"/>
<rect x="388.77" y="104.85" width="3.66" height="2.9" rx="1.45" fill="#1d4f82" fill-opacity="0.8"/>
<rect x="388.79" y="106.10" width="3.62" height="2.9" rx="1.45" fill="#1d4f82" fill-opacity="0.8"/>
<rect x="388.81" y="107.35" width="3.58" height="2.9" rx="1.45" fill="#1d4f82" fill-opacity="0.8"/>
<rect x="388.82" y="108.60" width="3.55" height="2.9" rx="1.45" fill="#1d4f82" fill-opacity="0.8"/>
<rect x="388.84" y="109.85" width="3.52" height="2.9" rx="1.45" fill="#1d4f82" fill-opacity="0.8"/>
<rect x="388.85" y="111.10" width="3.49" height="2.9" rx="1.45" fill="#1d4f82" fill-opacity="0.8"/>
<rect x="388.87" y="112.35" width="3.47" height="2.9" rx="1.45" fill="#1d4f82" fill-opacity="0.8"/>
<rect x="388.88" y="113.60" width="3.44" height="2.9" rx="1.45" fill="#1d4f82" fill-opacity="0.8"/>
<rect x="388.89" y="114.85" width="3.42" height="2.9" rx="1.45" fill="#1d4f82" fill-opacity="0.8"/>
<rect x="388.90" y="116.10" width="3.40" height="2.9" rx="1.45" fill="#1d4f82" fill-opacity="0.8"/>
<rect x="388.91" y="117.35" width="3.38" height="2.9" rx="1.45" fill="#1d4f82" fill-opacity="0.8"/>
<rect x="388.92" y="118.60" width="3.37" height="2.9" rx="1.45" fill="#1d4f82" fill-opacity="0.8"/>
<rect x="388.92" y="119.85" width="3.36" height="2.9" rx="1.45" fill="#1d4f82" fill-opacity="0.8"/>
<rect x="388.93" y="121.10" width="3.35" height="2.9" rx="1.45" fill="#1d4f82" fill-opacity="0.8"/>
<rect x="388.93" y="122.35" width="3.34" height="2.9" rx="1.45" fill="#1d4f82" fill-opacity="0.8"/>
<circle cx="390.59999999999997" cy="42.30" r="1.35" fill="#1d4f82" fill-opacity="0.6"/>
<circle cx="390.59999999999997" cy="126.30" r="1.35" fill="#1d4f82" fill-opacity="0.6"/>
<rect x="400.44999999999993" y="73" width="10.7" height="22.5" fill="#f8c482" fill-opacity="0.75" stroke="#e08a20" stroke-opacity="0.35" stroke-width="0.7"/>
<line x1="400.44999999999993" y1="83" x2="411.15" y2="83" stroke="#e08a20" stroke-width="0.9"/>
<rect x="404.15" y="42.35" width="3.30" height="2.9" rx="1.45" fill="#f0901c" fill-opacity="0.8"/>
<rect x="404.15" y="43.60" width="3.30" height="2.9" rx="1.45" fill="#f0901c" fill-opacity="0.8"/>
<rect x="404.15" y="44.85" width="3.30" height="2.9" rx="1.45" fill="#f0901c" fill-opacity="0.8"/>
<rect x="404.15" y="46.10" width="3.30" height="2.9" rx="1.45" fill="#f0901c" fill-opacity="0.8"/>
<rect x="404.15" y="47.35" width="3.30" height="2.9" rx="1.45" fill="#f0901c" fill-opacity="0.8"/>
<rect x="404.15" y="48.60" width="3.31" height="2.9" rx="1.45" fill="#f0901c" fill-opacity="0.8"/>
<rect x="404.15" y="49.85" width="3.31" height="2.9" rx="1.45" fill="#f0901c" fill-opacity="0.8"/>
<rect x="404.14" y="51.10" width="3.31" height="2.9" rx="1.45" fill="#f0901c" fill-opacity="0.8"/>
<rect x="404.14" y="52.35" width="3.32" height="2.9" rx="1.45" fill="#f0901c" fill-opacity="0.8"/>
<rect x="404.14" y="53.60" width="3.33" height="2.9" rx="1.45" fill="#f0901c" fill-opacity="0.8"/>
<rect x="404.13" y="54.85" width="3.34" height="2.9" rx="1.45" fill="#f0901c" fill-opacity="0.8"/>
<rect x="404.12" y="56.10" width="3.35" height="2.9" rx="1.45" fill="#f0901c" fill-opacity="0.8"/>
<rect x="404.12" y="57.35" width="3.37" height="2.9" rx="1.45" fill="#f0901c" fill-opacity="0.8"/>
<rect x="404.10" y="58.60" width="3.39" height="2.9" rx="1.45" fill="#f0901c" fill-opacity="0.8"/>
<rect x="404.09" y="59.85" width="3.42" height="2.9" rx="1.45" fill="#f0901c" fill-opacity="0.8"/>
<rect x="404.07" y="61.10" width="3.46" height="2.9" rx="1.45" fill="#f0901c" fill-opacity="0.8"/>
<rect x="404.05" y="62.35" width="3.51" height="2.9" rx="1.45" fill="#f0901c" fill-opacity="0.8"/>
<rect x="404.02" y="63.60" width="3.56" height="2.9" rx="1.45" fill="#f0901c" fill-opacity="0.8"/>
<rect x="403.99" y="64.85" width="3.62" height="2.9" rx="1.45" fill="#f0901c" fill-opacity="0.8"/>
<rect x="403.95" y="66.10" width="3.69" height="2.9" rx="1.45" fill="#f0901c" fill-opacity="0.8"/>
<rect x="403.91" y="67.35" width="3.77" height="2.9" rx="1.45" fill="#f0901c" fill-opacity="0.8"/>
<rect x="403.87" y="68.60" width="3.86" height="2.9" rx="1.45" fill="#f0901c" fill-opacity="0.8"/>
<rect x="403.82" y="69.85" width="3.96" height="2.9" rx="1.45" fill="#f0901c" fill-opacity="0.8"/>
<rect x="403.77" y="71.10" width="4.05" height="2.9" rx="1.45" fill="#f0901c" fill-opacity="0.8"/>
<rect x="403.72" y="72.35" width="4.15" height="2.9" rx="1.45" fill="#f0901c" fill-opacity="0.8"/>
<rect x="403.68" y="73.60" width="4.25" height="2.9" rx="1.45" fill="#f0901c" fill-opacity="0.8"/>
<rect x="403.63" y="74.85" width="4.34" height="2.9" rx="1.45" fill="#f0901c" fill-opacity="0.8"/>
<rect x="403.59" y="76.10" width="4.42" height="2.9" rx="1.45" fill="#f0901c" fill-opacity="0.8"/>
<rect x="403.55" y="77.35" width="4.49" height="2.9" rx="1.45" fill="#f0901c" fill-opacity="0.8"/>
<rect x="403.53" y="78.60" width="4.54" height="2.9" rx="1.45" fill="#f0901c" fill-opacity="0.8"/>
<rect x="403.51" y="79.85" width="4.58" height="2.9" rx="1.45" fill="#f0901c" fill-opacity="0.8"/>
<rect x="403.50" y="81.10" width="4.60" height="2.9" rx="1.45" fill="#f0901c" fill-opacity="0.8"/>
<rect x="403.50" y="82.35" width="4.60" height="2.9" rx="1.45" fill="#f0901c" fill-opacity="0.8"/>
<rect x="403.51" y="83.60" width="4.57" height="2.9" rx="1.45" fill="#f0901c" fill-opacity="0.8"/>
<rect x="403.53" y="84.85" width="4.53" height="2.9" rx="1.45" fill="#f0901c" fill-opacity="0.8"/>
<rect x="403.56" y="86.10" width="4.47" height="2.9" rx="1.45" fill="#f0901c" fill-opacity="0.8"/>
<rect x="403.60" y="87.35" width="4.40" height="2.9" rx="1.45" fill="#f0901c" fill-opacity="0.8"/>
<rect x="403.64" y="88.60" width="4.31" height="2.9" rx="1.45" fill="#f0901c" fill-opacity="0.8"/>
<rect x="403.69" y="89.85" width="4.22" height="2.9" rx="1.45" fill="#f0901c" fill-opacity="0.8"/>
<rect x="403.74" y="91.10" width="4.12" height="2.9" rx="1.45" fill="#f0901c" fill-opacity="0.8"/>
<rect x="403.79" y="92.35" width="4.03" height="2.9" rx="1.45" fill="#f0901c" fill-opacity="0.8"/>
<rect x="403.84" y="93.60" width="3.93" height="2.9" rx="1.45" fill="#f0901c" fill-opacity="0.8"/>
<rect x="403.88" y="94.85" width="3.84" height="2.9" rx="1.45" fill="#f0901c" fill-opacity="0.8"/>
<rect x="403.92" y="96.10" width="3.75" height="2.9" rx="1.45" fill="#f0901c" fill-opacity="0.8"/>
<rect x="403.96" y="97.35" width="3.67" height="2.9" rx="1.45" fill="#f0901c" fill-opacity="0.8"/>
<rect x="404.00" y="98.60" width="3.60" height="2.9" rx="1.45" fill="#f0901c" fill-opacity="0.8"/>
<rect x="404.03" y="99.85" width="3.54" height="2.9" rx="1.45" fill="#f0901c" fill-opacity="0.8"/>
<rect x="404.05" y="101.10" width="3.49" height="2.9" rx="1.45" fill="#f0901c" fill-opacity="0.8"/>
<rect x="404.08" y="102.35" width="3.45" height="2.9" rx="1.45" fill="#f0901c" fill-opacity="0.8"/>
<rect x="404.09" y="103.60" width="3.41" height="2.9" rx="1.45" fill="#f0901c" fill-opacity="0.8"/>
<rect x="404.11" y="104.85" width="3.39" height="2.9" rx="1.45" fill="#f0901c" fill-opacity="0.8"/>
<rect x="404.12" y="106.10" width="3.36" height="2.9" rx="1.45" fill="#f0901c" fill-opacity="0.8"/>
<rect x="404.13" y="107.35" width="3.35" height="2.9" rx="1.45" fill="#f0901c" fill-opacity="0.8"/>
<rect x="404.13" y="108.60" width="3.33" height="2.9" rx="1.45" fill="#f0901c" fill-opacity="0.8"/>
<rect x="404.14" y="109.85" width="3.32" height="2.9" rx="1.45" fill="#f0901c" fill-opacity="0.8"/>
<rect x="404.14" y="111.10" width="3.32" height="2.9" rx="1.45" fill="#f0901c" fill-opacity="0.8"/>
<rect x="404.14" y="112.35" width="3.31" height="2.9" rx="1.45" fill="#f0901c" fill-opacity="0.8"/>
<rect x="404.15" y="113.60" width="3.31" height="2.9" rx="1.45" fill="#f0901c" fill-opacity="0.8"/>
<rect x="404.15" y="114.85" width="3.31" height="2.9" rx="1.45" fill="#f0901c" fill-opacity="0.8"/>
<rect x="404.15" y="116.10" width="3.30" height="2.9" rx="1.45" fill="#f0901c" fill-opacity="0.8"/>
<rect x="404.15" y="117.35" width="3.30" height="2.9" rx="1.45" fill="#f0901c" fill-opacity="0.8"/>
<rect x="404.15" y="118.60" width="3.30" height="2.9" rx="1.45" fill="#f0901c" fill-opacity="0.8"/>
<rect x="404.15" y="119.85" width="3.30" height="2.9" rx="1.45" fill="#f0901c" fill-opacity="0.8"/>
<rect x="404.15" y="121.10" width="3.30" height="2.9" rx="1.45" fill="#f0901c" fill-opacity="0.8"/>
<rect x="404.15" y="122.35" width="3.30" height="2.9" rx="1.45" fill="#f0901c" fill-opacity="0.8"/>
<circle cx="405.79999999999995" cy="42.30" r="1.35" fill="#f0901c" fill-opacity="0.6"/>
<circle cx="405.79999999999995" cy="126.30" r="1.35" fill="#f0901c" fill-opacity="0.6"/>
<rect x="428.54999999999995" y="73.8" width="11.1" height="7.1000000000000085" fill="#6a96c6" fill-opacity="0.75" stroke="#1d4f82" stroke-opacity="0.35" stroke-width="0.7"/>
<line x1="428.54999999999995" y1="77.4" x2="439.65" y2="77.4" stroke="#1d4f82" stroke-width="0.9"/>
<rect x="432.43" y="62.95" width="3.33" height="2.9" rx="1.45" fill="#1d4f82" fill-opacity="0.8"/>
<rect x="432.40" y="64.20" width="3.41" height="2.9" rx="1.45" fill="#1d4f82" fill-opacity="0.8"/>
<rect x="432.35" y="65.45" width="3.50" height="2.9" rx="1.45" fill="#1d4f82" fill-opacity="0.8"/>
<rect x="432.29" y="66.70" width="3.63" height="2.9" rx="1.45" fill="#1d4f82" fill-opacity="0.8"/>
<rect x="432.21" y="67.95" width="3.78" height="2.9" rx="1.45" fill="#1d4f82" fill-opacity="0.8"/>
<rect x="432.13" y="69.20" width="3.94" height="2.9" rx="1.45" fill="#1d4f82" fill-opacity="0.8"/>
<rect x="432.04" y="70.45" width="4.12" height="2.9" rx="1.45" fill="#1d4f82" fill-opacity="0.8"/>
<rect x="431.96" y="71.70" width="4.29" height="2.9" rx="1.45" fill="#1d4f82" fill-opacity="0.8"/>
<rect x="431.88" y="72.95" width="4.44" height="2.9" rx="1.45" fill="#1d4f82" fill-opacity="0.8"/>
<rect x="431.83" y="74.20" width="4.54" height="2.9" rx="1.45" fill="#1d4f82" fill-opacity="0.8"/>
<rect x="431.80" y="75.45" width="4.60" height="2.9" rx="1.45" fill="#1d4f82" fill-opacity="0.8"/>
<rect x="431.81" y="76.70" width="4.59" height="2.9" rx="1.45" fill="#1d4f82" fill-opacity="0.8"/>
<rect x="431.84" y="77.95" width="4.52" height="2.9" rx="1.45" fill="#1d4f82" fill-opacity="0.8"/>
<rect x="431.90" y="79.20" width="4.41" height="2.9" rx="1.45" fill="#1d4f82" fill-opacity="0.8"/>
<rect x="431.97" y="80.45" width="4.26" height="2.9" rx="1.45" fill="#1d4f82" fill-opacity="0.8"/>
<rect x="432.06" y="81.70" width="4.08" height="2.9" rx="1.45" fill="#1d4f82" fill-opacity="0.8"/>
<rect x="432.15" y="82.95" width="3.91" height="2.9" rx="1.45" fill="#1d4f82" fill-opacity="0.8"/>
<rect x="432.23" y="84.20" width="3.74" height="2.9" rx="1.45" fill="#1d4f82" fill-opacity="0.8"/>
<rect x="432.30" y="85.45" width="3.60" height="2.9" rx="1.45" fill="#1d4f82" fill-opacity="0.8"/>
<rect x="432.36" y="86.70" width="3.48" height="2.9" rx="1.45" fill="#1d4f82" fill-opacity="0.8"/>
<circle cx="434.09999999999997" cy="62.90" r="1.35" fill="#1d4f82" fill-opacity="0.6"/>
<circle cx="434.09999999999997" cy="90.50" r="1.35" fill="#1d4f82" fill-opacity="0.6"/>
<rect x="443.49999999999994" y="66.2" width="11.2" height="8.099999999999994" fill="#f8c482" fill-opacity="0.75" stroke="#e08a20" stroke-opacity="0.35" stroke-width="0.7"/>
<line x1="443.49999999999994" y1="69.9" x2="454.7" y2="69.9" stroke="#e08a20" stroke-width="0.9"/>
<rect x="447.44" y="48.45" width="3.33" height="2.9" rx="1.45" fill="#f0901c" fill-opacity="0.8"/>
<rect x="447.43" y="49.70" width="3.35" height="2.9" rx="1.45" fill="#f0901c" fill-opacity="0.8"/>
<rect x="447.41" y="50.95" width="3.37" height="2.9" rx="1.45" fill="#f0901c" fill-opacity="0.8"/>
<rect x="447.39" y="52.20" width="3.41" height="2.9" rx="1.45" fill="#f0901c" fill-opacity="0.8"/>
<rect x="447.36" y="53.45" width="3.47" height="2.9" rx="1.45" fill="#f0901c" fill-opacity="0.8"/>
<rect x="447.33" y="54.70" width="3.55" height="2.9" rx="1.45" fill="#f0901c" fill-opacity="0.8"/>
<rect x="447.28" y="55.95" width="3.65" height="2.9" rx="1.45" fill="#f0901c" fill-opacity="0.8"/>
<rect x="447.22" y="57.20" width="3.77" height="2.9" rx="1.45" fill="#f0901c" fill-opacity="0.8"/>
<rect x="447.14" y="58.45" width="3.91" height="2.9" rx="1.45" fill="#f0901c" fill-opacity="0.8"/>
<rect x="447.06" y="59.70" width="4.08" height="2.9" rx="1.45" fill="#f0901c" fill-opacity="0.8"/>
<rect x="446.97" y="60.95" width="4.26" height="2.9" rx="1.45" fill="#f0901c" fill-opacity="0.8"/>
<rect x="446.88" y="62.20" width="4.44" height="2.9" rx="1.45" fill="#f0901c" fill-opacity="0.8"/>
<rect x="446.79" y="63.45" width="4.62" height="2.9" rx="1.45" fill="#f0901c" fill-opacity="0.8"/>
<rect x="446.71" y="64.70" width="4.77" height="2.9" rx="1.45" fill="#f0901c" fill-opacity="0.8"/>
<rect x="446.65" y="65.95" width="4.89" height="2.9" rx="1.45" fill="#f0901c" fill-opacity="0.8"/>
<rect x="446.61" y="67.20" width="4.97" height="2.9" rx="1.45" fill="#f0901c" fill-opacity="0.8"/>
<rect x="446.60" y="68.45" width="5.00" height="2.9" rx="1.45" fill="#f0901c" fill-opacity="0.8"/>
<rect x="446.61" y="69.70" width="4.97" height="2.9" rx="1.45" fill="#f0901c" fill-opacity="0.8"/>
<rect x="446.65" y="70.95" width="4.89" height="2.9" rx="1.45" fill="#f0901c" fill-opacity="0.8"/>
<rect x="446.71" y="72.20" width="4.77" height="2.9" rx="1.45" fill="#f0901c" fill-opacity="0.8"/>
<rect x="446.79" y="73.45" width="4.62" height="2.9" rx="1.45" fill="#f0901c" fill-opacity="0.8"/>
<rect x="446.88" y="74.70" width="4.44" height="2.9" rx="1.45" fill="#f0901c" fill-opacity="0.8"/>
<rect x="446.97" y="75.95" width="4.26" height="2.9" rx="1.45" fill="#f0901c" fill-opacity="0.8"/>
<rect x="447.06" y="77.20" width="4.08" height="2.9" rx="1.45" fill="#f0901c" fill-opacity="0.8"/>
<rect x="447.14" y="78.45" width="3.91" height="2.9" rx="1.45" fill="#f0901c" fill-opacity="0.8"/>
<rect x="447.22" y="79.70" width="3.77" height="2.9" rx="1.45" fill="#f0901c" fill-opacity="0.8"/>
<rect x="447.28" y="80.95" width="3.65" height="2.9" rx="1.45" fill="#f0901c" fill-opacity="0.8"/>
<rect x="447.33" y="82.20" width="3.55" height="2.9" rx="1.45" fill="#f0901c" fill-opacity="0.8"/>
<rect x="447.36" y="83.45" width="3.47" height="2.9" rx="1.45" fill="#f0901c" fill-opacity="0.8"/>
<rect x="447.39" y="84.70" width="3.41" height="2.9" rx="1.45" fill="#f0901c" fill-opacity="0.8"/>
<rect x="447.41" y="85.95" width="3.37" height="2.9" rx="1.45" fill="#f0901c" fill-opacity="0.8"/>
<circle cx="449.09999999999997" cy="45.90" r="1.35" fill="#f0901c" fill-opacity="0.6"/>
<circle cx="449.09999999999997" cy="48.10" r="1.35" fill="#f0901c" fill-opacity="0.6"/>
<circle cx="449.09999999999997" cy="89.10" r="1.35" fill="#f0901c" fill-opacity="0.6"/>
<rect x="472.1" y="51.7" width="10.8" height="2.5" fill="#6a96c6" fill-opacity="0.75" stroke="#1d4f82" stroke-opacity="0.35" stroke-width="0.7"/>
<line x1="472.1" y1="53" x2="482.9" y2="53" stroke="#1d4f82" stroke-width="0.9"/>
<circle cx="477.5" cy="44.30" r="1.45" fill="#1d4f82" fill-opacity="0.85"/>
<circle cx="477.5" cy="45.55" r="1.45" fill="#1d4f82" fill-opacity="0.85"/>
<circle cx="477.5" cy="46.80" r="1.45" fill="#1d4f82" fill-opacity="0.85"/>
<circle cx="477.5" cy="48.05" r="1.45" fill="#1d4f82" fill-opacity="0.85"/>
<circle cx="477.5" cy="49.30" r="1.45" fill="#1d4f82" fill-opacity="0.85"/>
<circle cx="477.5" cy="50.55" r="1.45" fill="#1d4f82" fill-opacity="0.85"/>
<rect x="475.92" y="50.35" width="3.17" height="2.9" rx="1.45" fill="#1d4f82" fill-opacity="0.8"/>
<rect x="475.90" y="51.60" width="3.20" height="2.9" rx="1.45" fill="#1d4f82" fill-opacity="0.8"/>
<rect x="475.92" y="52.85" width="3.16" height="2.9" rx="1.45" fill="#1d4f82" fill-opacity="0.8"/>
<circle cx="477.5" cy="55.55" r="1.45" fill="#1d4f82" fill-opacity="0.85"/>
<circle cx="477.5" cy="56.80" r="1.45" fill="#1d4f82" fill-opacity="0.85"/>
<circle cx="477.5" cy="58.05" r="1.45" fill="#1d4f82" fill-opacity="0.85"/>
<circle cx="477.5" cy="59.30" r="1.45" fill="#1d4f82" fill-opacity="0.85"/>
<circle cx="477.5" cy="60.55" r="1.45" fill="#1d4f82" fill-opacity="0.85"/>
<circle cx="477.5" cy="61.80" r="1.45" fill="#1d4f82" fill-opacity="0.85"/>
<circle cx="477.5" cy="42.10" r="1.35" fill="#1d4f82" fill-opacity="0.6"/>
<circle cx="477.5" cy="64.60" r="1.35" fill="#1d4f82" fill-opacity="0.6"/>
<rect x="487.3" y="52.5" width="11" height="2.5" fill="#f8c482" fill-opacity="0.75" stroke="#e08a20" stroke-opacity="0.35" stroke-width="0.7"/>
<line x1="487.3" y1="53.75" x2="498.3" y2="53.75" stroke="#e08a20" stroke-width="0.9"/>
<circle cx="492.8" cy="41.90" r="1.45" fill="#f0901c" fill-opacity="0.85"/>
<circle cx="492.8" cy="43.15" r="1.45" fill="#f0901c" fill-opacity="0.85"/>
<circle cx="492.8" cy="44.40" r="1.45" fill="#f0901c" fill-opacity="0.85"/>
<circle cx="492.8" cy="45.65" r="1.45" fill="#f0901c" fill-opacity="0.85"/>
<circle cx="492.8" cy="46.90" r="1.45" fill="#f0901c" fill-opacity="0.85"/>
<circle cx="492.8" cy="48.15" r="1.45" fill="#f0901c" fill-opacity="0.85"/>
<rect x="491.23" y="47.95" width="3.14" height="2.9" rx="1.45" fill="#f0901c" fill-opacity="0.8"/>
<rect x="491.18" y="49.20" width="3.23" height="2.9" rx="1.45" fill="#f0901c" fill-opacity="0.8"/>
<rect x="491.13" y="50.45" width="3.33" height="2.9" rx="1.45" fill="#f0901c" fill-opacity="0.8"/>
<rect x="491.10" y="51.70" width="3.39" height="2.9" rx="1.45" fill="#f0901c" fill-opacity="0.8"/>
<rect x="491.10" y="52.95" width="3.39" height="2.9" rx="1.45" fill="#f0901c" fill-opacity="0.8"/>
<rect x="491.14" y="54.20" width="3.33" height="2.9" rx="1.45" fill="#f0901c" fill-opacity="0.8"/>
<rect x="491.18" y="55.45" width="3.23" height="2.9" rx="1.45" fill="#f0901c" fill-opacity="0.8"/>
<rect x="491.23" y="56.70" width="3.14" height="2.9" rx="1.45" fill="#f0901c" fill-opacity="0.8"/>
<circle cx="492.8" cy="59.40" r="1.45" fill="#f0901c" fill-opacity="0.85"/>
<circle cx="492.8" cy="60.65" r="1.45" fill="#f0901c" fill-opacity="0.85"/>
<circle cx="492.8" cy="61.90" r="1.45" fill="#f0901c" fill-opacity="0.85"/>
<circle cx="492.8" cy="63.15" r="1.45" fill="#f0901c" fill-opacity="0.85"/>
<circle cx="492.8" cy="40.40" r="1.35" fill="#f0901c" fill-opacity="0.6"/>
<line x1="370.90000000000003" y1="173.6" x2="370.90000000000003" y2="183.2" stroke="#1d4f82" stroke-width="0.8" stroke-opacity="0.7"/>
<rect x="366.3" y="176.2" width="9.2" height="4.9" fill="#6a96c6" fill-opacity="0.85" stroke="#1d4f82" stroke-width="0.5" stroke-opacity="0.5"/>
<line x1="366.3" y1="178.6" x2="375.5" y2="178.6" stroke="#1d4f82" stroke-width="0.9"/>
<line x1="399.79999999999995" y1="173.6" x2="399.79999999999995" y2="183.2" stroke="#f0901c" stroke-width="0.8" stroke-opacity="0.7"/>
<rect x="394.9" y="176.2" width="9.8" height="4.9" fill="#f8c482" fill-opacity="0.85" stroke="#f0901c" stroke-width="0.5" stroke-opacity="0.5"/>
<line x1="394.9" y1="178.6" x2="404.7" y2="178.6" stroke="#f0901c" stroke-width="0.9"/>
<text x="378.6" y="181.2" font-size="8" text-anchor="start" font-weight="normal" font-style="normal" fill="#1a1a1a" >HI</text>
<text x="406.8" y="181.2" font-size="7.6" text-anchor="start" font-weight="normal" font-style="normal" fill="#1a1a1a" >Patient</text>
<line x1="46.9" y1="139.6" x2="46.9" y2="235" stroke="#161616" stroke-width="1.4"/>
<line x1="46.9" y1="235" x2="193.3" y2="235" stroke="#161616" stroke-width="1.4"/>
<line x1="43.8" y1="235.0" x2="46.9" y2="235.0" stroke="#161616" stroke-width="1.1"/>
<text x="41.2" y="237.9" font-size="8" text-anchor="end" font-weight="normal" font-style="normal" fill="#1a1a1a" >45</text>
<line x1="43.8" y1="216.78" x2="46.9" y2="216.78" stroke="#161616" stroke-width="1.1"/>
<text x="41.2" y="219.68" font-size="8" text-anchor="end" font-weight="normal" font-style="normal" fill="#1a1a1a" >50</text>
<line x1="43.8" y1="198.56" x2="46.9" y2="198.56" stroke="#161616" stroke-width="1.1"/>
<text x="41.2" y="201.46" font-size="8" text-anchor="end" font-weight="normal" font-style="normal" fill="#1a1a1a" >55</text>
<line x1="43.8" y1="180.34" x2="46.9" y2="180.34" stroke="#161616" stroke-width="1.1"/>
<text x="41.2" y="183.24" font-size="8" text-anchor="end" font-weight="normal" font-style="normal" fill="#1a1a1a" >60</text>
<line x1="43.8" y1="162.12" x2="46.9" y2="162.12" stroke="#161616" stroke-width="1.1"/>
<text x="41.2" y="165.02" font-size="8" text-anchor="end" font-weight="normal" font-style="normal" fill="#1a1a1a" >65</text>
<line x1="43.8" y1="143.89999999999998" x2="46.9" y2="143.89999999999998" stroke="#161616" stroke-width="1.1"/>
<text x="41.2" y="146.79999999999998" font-size="8" text-anchor="end" font-weight="normal" font-style="normal" fill="#1a1a1a" >70</text>
<line x1="65.0" y1="235" x2="65.0" y2="238.2" stroke="#161616" stroke-width="1.1"/>
<text x="65.0" y="248" font-size="8" text-anchor="middle" font-weight="normal" font-style="normal" fill="#1a1a1a" >6</text>
<line x1="99.5" y1="235" x2="99.5" y2="238.2" stroke="#161616" stroke-width="1.1"/>
<text x="99.5" y="248" font-size="8" text-anchor="middle" font-weight="normal" font-style="normal" fill="#1a1a1a" >8</text>
<line x1="134.0" y1="235" x2="134.0" y2="238.2" stroke="#161616" stroke-width="1.1"/>
<text x="134.0" y="248" font-size="8" text-anchor="middle" font-weight="normal" font-style="normal" fill="#1a1a1a" >10</text>
<line x1="168.5" y1="235" x2="168.5" y2="238.2" stroke="#161616" stroke-width="1.1"/>
<text x="168.5" y="248" font-size="8" text-anchor="middle" font-weight="normal" font-style="normal" fill="#1a1a1a" >12</text>
<text x="120.8" y="260.7" font-size="9.5" font-weight="bold" text-anchor="middle" fill="#1a1a1a" textLength="25.9" lengthAdjust="spacingAndGlyphs">IL18 log2</text>
<text transform="translate(26.8,186.8) rotate(-90)" font-size="9" font-weight="bold" text-anchor="middle" fill="#1a1a1a" textLength="11.4" lengthAdjust="spacingAndGlyphs">TWI</text>
<text x="57.3" y="150.6" font-size="8" fill="#1a1a1a" textLength="28.1" lengthAdjust="spacing"><tspan font-style="italic">P</tspan> &lt; .001</text>
<line x1="46.9" y1="214.0" x2="191.7" y2="167.8" stroke="#222" stroke-width="0.95"/>
<circle cx="65.3" cy="202" r="1.4" fill="#325679"/>
<circle cx="65.7" cy="209.5" r="1.4" fill="#325679"/>
<circle cx="83.9" cy="217" r="1.4" fill="#325679"/>
<circle cx="88.2" cy="214.7" r="1.4" fill="#325679"/>
<circle cx="85.6" cy="222.4" r="1.4" fill="#325679"/>
<circle cx="94.2" cy="224.1" r="1.4" fill="#325679"/>
<circle cx="88.8" cy="202" r="1.4" fill="#325679"/>
<circle cx="90.3" cy="191.8" r="1.4" fill="#325679"/>
<circle cx="90.3" cy="193.9" r="1.4" fill="#325679"/>
<circle cx="97.8" cy="189.6" r="1.4" fill="#325679"/>
<circle cx="98.9" cy="197.5" r="1.4" fill="#325679"/>
<circle cx="101" cy="198.2" r="1.4" fill="#325679"/>
<circle cx="101.7" cy="184.3" r="1.4" fill="#325679"/>
<circle cx="103.2" cy="186" r="1.4" fill="#325679"/>
<circle cx="103.8" cy="169.9" r="1.4" fill="#325679"/>
<circle cx="96.3" cy="208.9" r="1.4" fill="#325679"/>
<circle cx="96.8" cy="211" r="1.4" fill="#325679"/>
<circle cx="101" cy="206.7" r="1.4" fill="#325679"/>
<circle cx="101" cy="211.7" r="1.4" fill="#325679"/>
<circle cx="103.2" cy="214.9" r="1.4" fill="#325679"/>
<circle cx="106.4" cy="218.5" r="1.4" fill="#325679"/>
<circle cx="107" cy="222.4" r="1.4" fill="#325679"/>
<circle cx="105.3" cy="199.3" r="1.4" fill="#325679"/>
<circle cx="104.2" cy="204" r="1.4" fill="#325679"/>
<circle cx="107.5" cy="195" r="1.4" fill="#325679"/>
<circle cx="108.5" cy="190.7" r="1.4" fill="#325679"/>
<circle cx="109.6" cy="184.3" r="1.4" fill="#325679"/>
<circle cx="110.2" cy="175.3" r="1.4" fill="#325679"/>
<circle cx="111.7" cy="171.4" r="1.4" fill="#325679"/>
<circle cx="111.1" cy="178.9" r="1.4" fill="#325679"/>
<circle cx="113.2" cy="182.1" r="1.4" fill="#325679"/>
<circle cx="110.7" cy="200.3" r="1.4" fill="#325679"/>
<circle cx="111.1" cy="207.4" r="1.4" fill="#325679"/>
<circle cx="109.6" cy="200.7" r="1.4" fill="#325679"/>
<circle cx="112.8" cy="187.5" r="1.4" fill="#325679"/>
<circle cx="116" cy="161.8" r="1.4" fill="#325679"/>
<circle cx="119.7" cy="160.3" r="1.4" fill="#325679"/>
<circle cx="123.5" cy="160.3" r="1.4" fill="#325679"/>
<circle cx="119.2" cy="166.7" r="1.4" fill="#325679"/>
<circle cx="117.5" cy="171.4" r="1.4" fill="#325679"/>
<circle cx="119.7" cy="177.4" r="1.4" fill="#325679"/>
<circle cx="121.4" cy="180" r="1.4" fill="#325679"/>
<circle cx="117.1" cy="188.5" r="1.4" fill="#325679"/>
<circle cx="118.2" cy="190.7" r="1.4" fill="#325679"/>
<circle cx="119.9" cy="195.6" r="1.4" fill="#325679"/>
<circle cx="117.1" cy="198.8" r="1.4" fill="#325679"/>
<circle cx="119.2" cy="199.3" r="1.4" fill="#325679"/>
<circle cx="121.4" cy="197.5" r="1.4" fill="#325679"/>
<circle cx="123.5" cy="199.9" r="1.4" fill="#325679"/>
<circle cx="116" cy="184.3" r="1.4" fill="#325679"/>
<circle cx="124.6" cy="182.1" r="1.4" fill="#325679"/>
<circle cx="125.7" cy="160.7" r="1.4" fill="#325679"/>
<circle cx="135.3" cy="162.4" r="1.4" fill="#325679"/>
<circle cx="146.7" cy="160.3" r="1.4" fill="#325679"/>
<circle cx="159.3" cy="160.7" r="1.4" fill="#325679"/>
<circle cx="127.4" cy="169.9" r="1.4" fill="#325679"/>
<circle cx="147.1" cy="173.1" r="1.4" fill="#325679"/>
<circle cx="158.9" cy="169.7" r="1.4" fill="#325679"/>
<circle cx="171.3" cy="172.5" r="1.4" fill="#325679"/>
<circle cx="136.4" cy="176.8" r="1.4" fill="#325679"/>
<circle cx="139" cy="176.8" r="1.4" fill="#325679"/>
<circle cx="137.5" cy="180" r="1.4" fill="#325679"/>
<circle cx="124.6" cy="183.2" r="1.4" fill="#325679"/>
<circle cx="125.7" cy="185.3" r="1.4" fill="#325679"/>
<circle cx="152.5" cy="178.9" r="1.4" fill="#325679"/>
<circle cx="156.8" cy="181" r="1.4" fill="#325679"/>
<circle cx="125.7" cy="189.6" r="1.4" fill="#325679"/>
<circle cx="134.7" cy="187.5" r="1.4" fill="#325679"/>
<circle cx="134.3" cy="190.7" r="1.4" fill="#325679"/>
<circle cx="179.2" cy="186" r="1.4" fill="#325679"/>
<circle cx="149.7" cy="191.3" r="1.4" fill="#325679"/>
<circle cx="126.8" cy="195" r="1.4" fill="#325679"/>
<circle cx="129.6" cy="195.4" r="1.4" fill="#325679"/>
<circle cx="134.3" cy="195.4" r="1.4" fill="#325679"/>
<circle cx="138.6" cy="198.8" r="1.4" fill="#325679"/>
<circle cx="149.3" cy="197.1" r="1.4" fill="#325679"/>
<circle cx="149.7" cy="199.2" r="1.4" fill="#325679"/>
<circle cx="158.9" cy="195.4" r="1.4" fill="#325679"/>
<circle cx="160" cy="200.7" r="1.4" fill="#325679"/>
<circle cx="125.7" cy="200.7" r="1.4" fill="#325679"/>
<circle cx="130.4" cy="202" r="1.4" fill="#325679"/>
<circle cx="134.7" cy="204.2" r="1.4" fill="#325679"/>
<circle cx="153.5" cy="207.8" r="1.4" fill="#325679"/>
<circle cx="125.7" cy="216.8" r="1.4" fill="#325679"/>
<line x1="46.9" y1="290.4" x2="46.9" y2="385.4" stroke="#161616" stroke-width="1.4"/>
<line x1="46.9" y1="385.4" x2="193.3" y2="385.4" stroke="#161616" stroke-width="1.4"/>
<line x1="43.8" y1="385.4" x2="46.9" y2="385.4" stroke="#161616" stroke-width="1.1"/>
<text x="41.2" y="388.29999999999995" font-size="8" text-anchor="end" font-weight="normal" font-style="normal" fill="#1a1a1a" >30</text>
<line x1="43.8" y1="367.46" x2="46.9" y2="367.46" stroke="#161616" stroke-width="1.1"/>
<text x="41.2" y="370.35999999999996" font-size="8" text-anchor="end" font-weight="normal" font-style="normal" fill="#1a1a1a" >40</text>
<line x1="43.8" y1="349.52" x2="46.9" y2="349.52" stroke="#161616" stroke-width="1.1"/>
<text x="41.2" y="352.41999999999996" font-size="8" text-anchor="end" font-weight="normal" font-style="normal" fill="#1a1a1a" >50</text>
<line x1="43.8" y1="331.58" x2="46.9" y2="331.58" stroke="#161616" stroke-width="1.1"/>
<text x="41.2" y="334.47999999999996" font-size="8" text-anchor="end" font-weight="normal" font-style="normal" fill="#1a1a1a" >60</text>
<line x1="43.8" y1="313.64" x2="46.9" y2="313.64" stroke="#161616" stroke-width="1.1"/>
<text x="41.2" y="316.53999999999996" font-size="8" text-anchor="end" font-weight="normal" font-style="normal" fill="#1a1a1a" >70</text>
<line x1="43.8" y1="295.7" x2="46.9" y2="295.7" stroke="#161616" stroke-width="1.1"/>
<text x="41.2" y="298.59999999999997" font-size="8" text-anchor="end" font-weight="normal" font-style="normal" fill="#1a1a1a" >80</text>
<line x1="65.0" y1="385.4" x2="65.0" y2="388.59999999999997" stroke="#161616" stroke-width="1.1"/>
<text x="65.0" y="398.4" font-size="8" text-anchor="middle" font-weight="normal" font-style="normal" fill="#1a1a1a" >6</text>
<line x1="99.5" y1="385.4" x2="99.5" y2="388.59999999999997" stroke="#161616" stroke-width="1.1"/>
<text x="99.5" y="398.4" font-size="8" text-anchor="middle" font-weight="normal" font-style="normal" fill="#1a1a1a" >8</text>
<line x1="134.0" y1="385.4" x2="134.0" y2="388.59999999999997" stroke="#161616" stroke-width="1.1"/>
<text x="134.0" y="398.4" font-size="8" text-anchor="middle" font-weight="normal" font-style="normal" fill="#1a1a1a" >10</text>
<line x1="168.5" y1="385.4" x2="168.5" y2="388.59999999999997" stroke="#161616" stroke-width="1.1"/>
<text x="168.5" y="398.4" font-size="8" text-anchor="middle" font-weight="normal" font-style="normal" fill="#1a1a1a" >12</text>
<text x="120.8" y="411.09999999999997" font-size="9.5" font-weight="bold" text-anchor="middle" fill="#1a1a1a" textLength="25.9" lengthAdjust="spacingAndGlyphs">IL18 log2</text>
<text transform="translate(26.8,337.9) rotate(-90)" font-size="9" font-weight="bold" text-anchor="middle" fill="#1a1a1a" textLength="11.4" lengthAdjust="spacingAndGlyphs">NIR</text>
<text x="57.3" y="300.1" font-size="8" fill="#1a1a1a" textLength="29.7" lengthAdjust="spacing"><tspan font-style="italic">P</tspan> = .046</text>
<line x1="46.9" y1="325.2" x2="192.3" y2="344.2" stroke="#222" stroke-width="0.95"/>
<circle cx="64.6" cy="311.4" r="1.4" fill="#325679"/>
<circle cx="65.3" cy="335.6" r="1.4" fill="#325679"/>
<circle cx="88.2" cy="309.7" r="1.4" fill="#325679"/>
<circle cx="91" cy="310.8" r="1.4" fill="#325679"/>
<circle cx="94" cy="308.2" r="1.4" fill="#325679"/>
<circle cx="100.4" cy="310.8" r="1.4" fill="#325679"/>
<circle cx="106.8" cy="306.5" r="1.4" fill="#325679"/>
<circle cx="83.9" cy="336" r="1.4" fill="#325679"/>
<circle cx="85.4" cy="333.9" r="1.4" fill="#325679"/>
<circle cx="89.9" cy="328.1" r="1.4" fill="#325679"/>
<circle cx="90.3" cy="330.7" r="1.4" fill="#325679"/>
<circle cx="88.2" cy="345" r="1.4" fill="#325679"/>
<circle cx="96.1" cy="354.7" r="1.4" fill="#325679"/>
<circle cx="96.3" cy="333.9" r="1.4" fill="#325679"/>
<circle cx="97.4" cy="336" r="1.4" fill="#325679"/>
<circle cx="99.5" cy="333.3" r="1.4" fill="#325679"/>
<circle cx="101" cy="331.1" r="1.4" fill="#325679"/>
<circle cx="98.9" cy="341.4" r="1.4" fill="#325679"/>
<circle cx="101" cy="343.1" r="1.4" fill="#325679"/>
<circle cx="103.2" cy="350.4" r="1.4" fill="#325679"/>
<circle cx="104.2" cy="316.8" r="1.4" fill="#325679"/>
<circle cx="107.5" cy="320" r="1.4" fill="#325679"/>
<circle cx="111.1" cy="316.1" r="1.4" fill="#325679"/>
<circle cx="104.2" cy="324.3" r="1.4" fill="#325679"/>
<circle cx="103.8" cy="327.5" r="1.4" fill="#325679"/>
<circle cx="106.4" cy="328.1" r="1.4" fill="#325679"/>
<circle cx="109.6" cy="329" r="1.4" fill="#325679"/>
<circle cx="111.7" cy="330.7" r="1.4" fill="#325679"/>
<circle cx="110.2" cy="333.9" r="1.4" fill="#325679"/>
<circle cx="112.4" cy="335.4" r="1.4" fill="#325679"/>
<circle cx="108.5" cy="341.4" r="1.4" fill="#325679"/>
<circle cx="109.6" cy="348.9" r="1.4" fill="#325679"/>
<circle cx="111.7" cy="351" r="1.4" fill="#325679"/>
<circle cx="117.1" cy="317.8" r="1.4" fill="#325679"/>
<circle cx="120.3" cy="315.3" r="1.4" fill="#325679"/>
<circle cx="118.2" cy="321.7" r="1.4" fill="#325679"/>
<circle cx="116" cy="326.4" r="1.4" fill="#325679"/>
<circle cx="117.1" cy="329" r="1.4" fill="#325679"/>
<circle cx="118.2" cy="332.8" r="1.4" fill="#325679"/>
<circle cx="116" cy="340.7" r="1.4" fill="#325679"/>
<circle cx="117.1" cy="343.1" r="1.4" fill="#325679"/>
<circle cx="120.3" cy="346.1" r="1.4" fill="#325679"/>
<circle cx="117.5" cy="355.3" r="1.4" fill="#325679"/>
<circle cx="118.8" cy="367.1" r="1.4" fill="#325679"/>
<circle cx="123.5" cy="341.4" r="1.4" fill="#325679"/>
<circle cx="123.5" cy="323.2" r="1.4" fill="#325679"/>
<circle cx="122.5" cy="335" r="1.4" fill="#325679"/>
<circle cx="148.8" cy="308.2" r="1.4" fill="#325679"/>
<circle cx="149.3" cy="309.7" r="1.4" fill="#325679"/>
<circle cx="120.4" cy="310.3" r="1.4" fill="#325679"/>
<circle cx="125.3" cy="319.6" r="1.4" fill="#325679"/>
<circle cx="128.9" cy="320.6" r="1.4" fill="#325679"/>
<circle cx="138.1" cy="319.6" r="1.4" fill="#325679"/>
<circle cx="125.7" cy="325.3" r="1.4" fill="#325679"/>
<circle cx="130" cy="326.8" r="1.4" fill="#325679"/>
<circle cx="134.3" cy="327.5" r="1.4" fill="#325679"/>
<circle cx="135.3" cy="329" r="1.4" fill="#325679"/>
<circle cx="137.5" cy="324.7" r="1.4" fill="#325679"/>
<circle cx="125.3" cy="329.6" r="1.4" fill="#325679"/>
<circle cx="126.8" cy="335" r="1.4" fill="#325679"/>
<circle cx="125.7" cy="338.2" r="1.4" fill="#325679"/>
<circle cx="124.6" cy="342.5" r="1.4" fill="#325679"/>
<circle cx="124.6" cy="347.4" r="1.4" fill="#325679"/>
<circle cx="125.3" cy="348.9" r="1.4" fill="#325679"/>
<circle cx="135.3" cy="342.5" r="1.4" fill="#325679"/>
<circle cx="138.1" cy="342.5" r="1.4" fill="#325679"/>
<circle cx="134.7" cy="346.1" r="1.4" fill="#325679"/>
<circle cx="139.6" cy="345.7" r="1.4" fill="#325679"/>
<circle cx="136.4" cy="353.2" r="1.4" fill="#325679"/>
<circle cx="146.7" cy="332.8" r="1.4" fill="#325679"/>
<circle cx="149.3" cy="335.4" r="1.4" fill="#325679"/>
<circle cx="147.1" cy="340.3" r="1.4" fill="#325679"/>
<circle cx="152.5" cy="342.5" r="1.4" fill="#325679"/>
<circle cx="156.8" cy="335.4" r="1.4" fill="#325679"/>
<circle cx="160" cy="333.9" r="1.4" fill="#325679"/>
<circle cx="158.9" cy="343.1" r="1.4" fill="#325679"/>
<circle cx="159.5" cy="344.6" r="1.4" fill="#325679"/>
<circle cx="171.1" cy="332.8" r="1.4" fill="#325679"/>
<circle cx="179.2" cy="351" r="1.4" fill="#325679"/>
<circle cx="158.9" cy="356.4" r="1.4" fill="#325679"/>
<circle cx="153.1" cy="361.7" r="1.4" fill="#325679"/>
<circle cx="105.7" cy="381.7" r="1.4" fill="#325679"/>
<line x1="284.6" y1="225" x2="284.6" y2="318" stroke="#161616" stroke-width="1.4"/>
<line x1="284.6" y1="318.5" x2="511.3" y2="318.5" stroke="#161616" stroke-width="1.4"/>
<line x1="281.8" y1="227.09999999999997" x2="284.6" y2="227.09999999999997" stroke="#161616" stroke-width="1.1"/>
<text x="279.4" y="229.89999999999998" font-size="7.7" text-anchor="end" font-weight="normal" font-style="normal" fill="#1a1a1a" >0.5</text>
<line x1="281.8" y1="238.45999999999998" x2="284.6" y2="238.45999999999998" stroke="#161616" stroke-width="1.1"/>
<text x="279.4" y="241.26" font-size="7.7" text-anchor="end" font-weight="normal" font-style="normal" fill="#1a1a1a" >0.4</text>
<line x1="281.8" y1="249.82" x2="284.6" y2="249.82" stroke="#161616" stroke-width="1.1"/>
<text x="279.4" y="252.62" font-size="7.7" text-anchor="end" font-weight="normal" font-style="normal" fill="#1a1a1a" >0.3</text>
<line x1="281.8" y1="261.17999999999995" x2="284.6" y2="261.17999999999995" stroke="#161616" stroke-width="1.1"/>
<text x="279.4" y="263.97999999999996" font-size="7.7" text-anchor="end" font-weight="normal" font-style="normal" fill="#1a1a1a" >0.2</text>
<line x1="281.8" y1="272.53999999999996" x2="284.6" y2="272.53999999999996" stroke="#161616" stroke-width="1.1"/>
<text x="279.4" y="275.34" font-size="7.7" text-anchor="end" font-weight="normal" font-style="normal" fill="#1a1a1a" >0.1</text>
<line x1="281.8" y1="283.9" x2="284.6" y2="283.9" stroke="#161616" stroke-width="1.1"/>
<text x="279.4" y="286.7" font-size="7.7" text-anchor="end" font-weight="normal" font-style="normal" fill="#1a1a1a" >0.0</text>
<line x1="281.8" y1="295.26" x2="284.6" y2="295.26" stroke="#161616" stroke-width="1.1"/>
<text x="279.4" y="298.06" font-size="7.7" text-anchor="end" font-weight="normal" font-style="normal" fill="#1a1a1a" >−0.1</text>
<line x1="281.8" y1="306.62" x2="284.6" y2="306.62" stroke="#161616" stroke-width="1.1"/>
<text x="279.4" y="309.42" font-size="7.7" text-anchor="end" font-weight="normal" font-style="normal" fill="#1a1a1a" >−0.2</text>
<line x1="295.5" y1="318" x2="295.5" y2="321.5" stroke="#161616" stroke-width="1.1"/>
<text x="295.5" y="331.1" font-size="8.2" text-anchor="middle" font-weight="normal" font-style="normal" fill="#1a1a1a" >4</text>
<line x1="305.69" y1="318" x2="305.69" y2="321.5" stroke="#161616" stroke-width="1.1"/>
<text x="305.69" y="331.1" font-size="8.2" text-anchor="middle" font-weight="normal" font-style="normal" fill="#1a1a1a" >5</text>
<line x1="315.88" y1="318" x2="315.88" y2="321.5" stroke="#161616" stroke-width="1.1"/>
<text x="315.88" y="331.1" font-size="8.2" text-anchor="middle" font-weight="normal" font-style="normal" fill="#1a1a1a" >6</text>
<line x1="326.07" y1="318" x2="326.07" y2="321.5" stroke="#161616" stroke-width="1.1"/>
<text x="326.07" y="331.1" font-size="8.2" text-anchor="middle" font-weight="normal" font-style="normal" fill="#1a1a1a" >7</text>
<line x1="336.26" y1="318" x2="336.26" y2="321.5" stroke="#161616" stroke-width="1.1"/>
<text x="336.26" y="331.1" font-size="8.2" text-anchor="middle" font-weight="normal" font-style="normal" fill="#1a1a1a" >8</text>
<line x1="346.45" y1="318" x2="346.45" y2="321.5" stroke="#161616" stroke-width="1.1"/>
<text x="346.45" y="331.1" font-size="8.2" text-anchor="middle" font-weight="normal" font-style="normal" fill="#1a1a1a" >9</text>
<line x1="356.64" y1="318" x2="356.64" y2="321.5" stroke="#161616" stroke-width="1.1"/>
<text x="356.64" y="331.1" font-size="8.2" text-anchor="middle" font-weight="normal" font-style="normal" fill="#1a1a1a" >10</text>
<line x1="366.83" y1="318" x2="366.83" y2="321.5" stroke="#161616" stroke-width="1.1"/>
<text x="366.83" y="331.1" font-size="8.2" text-anchor="middle" font-weight="normal" font-style="normal" fill="#1a1a1a" >11</text>
<line x1="377.02" y1="318" x2="377.02" y2="321.5" stroke="#161616" stroke-width="1.1"/>
<text x="377.02" y="331.1" font-size="8.2" text-anchor="middle" font-weight="normal" font-style="normal" fill="#1a1a1a" >12</text>
<line x1="387.21" y1="318" x2="387.21" y2="321.5" stroke="#161616" stroke-width="1.1"/>
<text x="387.21" y="331.1" font-size="8.2" text-anchor="middle" font-weight="normal" font-style="normal" fill="#1a1a1a" >13</text>
<line x1="397.4" y1="318" x2="397.4" y2="321.5" stroke="#161616" stroke-width="1.1"/>
<text x="397.4" y="331.1" font-size="8.2" text-anchor="middle" font-weight="normal" font-style="normal" fill="#1a1a1a" >14</text>
<line x1="407.59" y1="318" x2="407.59" y2="321.5" stroke="#161616" stroke-width="1.1"/>
<text x="407.59" y="331.1" font-size="8.2" text-anchor="middle" font-weight="normal" font-style="normal" fill="#1a1a1a" >15</text>
<line x1="417.78" y1="318" x2="417.78" y2="321.5" stroke="#161616" stroke-width="1.1"/>
<text x="417.78" y="331.1" font-size="8.2" text-anchor="middle" font-weight="normal" font-style="normal" fill="#1a1a1a" >16</text>
<line x1="427.97" y1="318" x2="427.97" y2="321.5" stroke="#161616" stroke-width="1.1"/>
<text x="427.97" y="331.1" font-size="8.2" text-anchor="middle" font-weight="normal" font-style="normal" fill="#1a1a1a" >17</text>
<line x1="438.15999999999997" y1="318" x2="438.15999999999997" y2="321.5" stroke="#161616" stroke-width="1.1"/>
<text x="438.15999999999997" y="331.1" font-size="8.2" text-anchor="middle" font-weight="normal" font-style="normal" fill="#1a1a1a" >18</text>
<line x1="448.35" y1="318" x2="448.35" y2="321.5" stroke="#161616" stroke-width="1.1"/>
<text x="448.35" y="331.1" font-size="8.2" text-anchor="middle" font-weight="normal" font-style="normal" fill="#1a1a1a" >19</text>
<line x1="458.53999999999996" y1="318" x2="458.53999999999996" y2="321.5" stroke="#161616" stroke-width="1.1"/>
<text x="458.53999999999996" y="331.1" font-size="8.2" text-anchor="middle" font-weight="normal" font-style="normal" fill="#1a1a1a" >20</text>
<line x1="468.73" y1="318" x2="468.73" y2="321.5" stroke="#161616" stroke-width="1.1"/>
<text x="468.73" y="331.1" font-size="8.2" text-anchor="middle" font-weight="normal" font-style="normal" fill="#1a1a1a" >21</text>
<line x1="478.91999999999996" y1="318" x2="478.91999999999996" y2="321.5" stroke="#161616" stroke-width="1.1"/>
<text x="478.91999999999996" y="331.1" font-size="8.2" text-anchor="middle" font-weight="normal" font-style="normal" fill="#1a1a1a" >22</text>
<line x1="489.11" y1="318" x2="489.11" y2="321.5" stroke="#161616" stroke-width="1.1"/>
<text x="489.11" y="331.1" font-size="8.2" text-anchor="middle" font-weight="normal" font-style="normal" fill="#1a1a1a" >23</text>
<line x1="499.29999999999995" y1="318" x2="499.29999999999995" y2="321.5" stroke="#161616" stroke-width="1.1"/>
<text x="499.29999999999995" y="331.1" font-size="8.2" text-anchor="middle" font-weight="normal" font-style="normal" fill="#1a1a1a" >24</text>
<line x1="509.49" y1="318" x2="509.49" y2="321.5" stroke="#161616" stroke-width="1.1"/>
<text x="509.49" y="331.1" font-size="8.2" text-anchor="middle" font-weight="normal" font-style="normal" fill="#1a1a1a" >25</text>
<text x="398.1" y="219.2" font-size="9.4" text-anchor="middle" font-weight="normal" font-style="normal" fill="#1a1a1a" textLength="100.4" lengthAdjust="spacingAndGlyphs">Correlation IL-18 vs. PBR</text>
<text transform="translate(258.2,270.4) rotate(-90)" font-size="8.6" font-weight="bold" text-anchor="middle" fill="#1a1a1a" textLength="50.8" lengthAdjust="spacingAndGlyphs">Rho IL-18 vs. PBR</text>
<text x="397.9" y="344.2" font-size="9.4" font-weight="bold" text-anchor="middle" fill="#1a1a1a" textLength="61.9" lengthAdjust="spacingAndGlyphs">Vessel diameter (µm)</text>
<path d="M295.50,283.8 L305.69,278.5 L315.88,274 L326.07,272.8 L336.26,271.2 L346.45,272.8 L356.64,267.5 L366.83,265.4 L377.02,264.7 L387.21,261.5 L397.40,257.8 L407.59,255.8 L417.78,252.4 L427.97,255.5 L438.16,249.7 L448.35,253.7 L458.54,252.9 L468.73,252.4 L478.92,256.3 L489.11,251 L499.30,258.9 L509.49,266.8 L509.49,282.5 L499.30,273.3 L489.11,265.4 L478.92,270.7 L468.73,266.8 L458.54,267.5 L448.35,267.5 L438.16,263.4 L427.97,269.4 L417.78,266.8 L407.59,271.2 L397.40,273.8 L387.21,274.5 L377.02,278 L366.83,280 L356.64,281.2 L346.45,287 L336.26,287.7 L326.07,288.5 L315.88,290.3 L305.69,294.8 L295.50,298.2 Z" fill="url(#hatch)" stroke="#c8405e" stroke-width="0.7" stroke-opacity="0.7"/>
<line x1="285.6" y1="283.8" x2="508" y2="283.8" stroke="#444" stroke-width="1" stroke-dasharray="1.1,2.2"/>
<path d="M295.50,270.2 L305.69,266.8 L315.88,259.7 L326.07,257.6 L336.26,256.8 L346.45,258.1 L356.64,252.9 L366.83,251.6 L377.02,249.7 L387.21,246.6 L397.40,245 L407.59,243.2 L417.78,239.3 L427.97,241.9 L438.16,237.4 L448.35,239.8 L458.54,239.8 L468.73,239.8 L478.92,243.2 L489.11,238.5 L499.30,245.8 L509.49,253.7" fill="none" stroke="#2a2a2a" stroke-width="1"/>
<line x1="317.7" y1="354.2" x2="325.4" y2="354.2" stroke="#222" stroke-width="1.1"/>
<text x="328.5" y="357" font-size="7" text-anchor="start" font-weight="normal" font-style="normal" fill="#1a1a1a" style="stroke-width:0.06">Upper CI</text>
<line x1="363.8" y1="354.2" x2="370.9" y2="354.2" stroke="#aaa" stroke-width="1"/>
<text x="374.6" y="357" font-size="7" text-anchor="start" font-weight="normal" font-style="normal" fill="#1a1a1a" style="stroke-width:0.06">Lower CI</text>
<line x1="410" y1="354.2" x2="418.3" y2="354.2" stroke="#d8405e" stroke-width="1"/>
<text x="421.4" y="357" font-size="7" text-anchor="start" font-weight="normal" font-style="normal" fill="#1a1a1a" style="stroke-width:0.06">Rho IL-18 vs. PBR</text>
</svg>
</body></html>
